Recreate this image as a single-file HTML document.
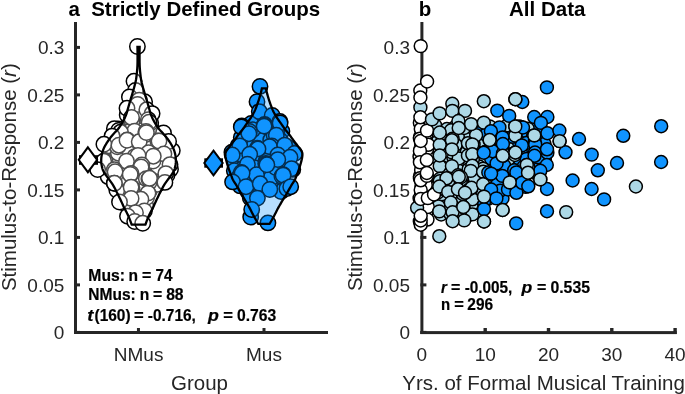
<!DOCTYPE html><html><head><meta charset="utf-8"><style>html,body{margin:0;padding:0;background:#fff;width:685px;height:394px;overflow:hidden}</style></head><body><svg width="685" height="394" viewBox="0 0 685 394" style="position:absolute;left:0;top:0;will-change:transform"><rect width="685" height="394" fill="#fff"/><circle cx="127.2" cy="114.9" r="7.7" fill="#fff" stroke="#000" stroke-width="1.5"/><circle cx="136.1" cy="198.9" r="7.7" fill="#fff" stroke="#000" stroke-width="1.5"/><circle cx="141.6" cy="152.4" r="7.7" fill="#fff" stroke="#000" stroke-width="1.5"/><circle cx="144.6" cy="101.8" r="7.7" fill="#fff" stroke="#000" stroke-width="1.5"/><circle cx="128.5" cy="168.5" r="7.7" fill="#fff" stroke="#000" stroke-width="1.5"/><circle cx="126.5" cy="139.0" r="7.7" fill="#fff" stroke="#000" stroke-width="1.5"/><circle cx="161.2" cy="150.7" r="7.7" fill="#fff" stroke="#000" stroke-width="1.5"/><circle cx="125.9" cy="197.2" r="7.7" fill="#fff" stroke="#000" stroke-width="1.5"/><circle cx="120.2" cy="168.6" r="7.7" fill="#fff" stroke="#000" stroke-width="1.5"/><circle cx="119.0" cy="136.0" r="7.7" fill="#fff" stroke="#000" stroke-width="1.5"/><circle cx="140.4" cy="121.5" r="7.7" fill="#fff" stroke="#000" stroke-width="1.5"/><circle cx="130.0" cy="188.5" r="7.7" fill="#fff" stroke="#000" stroke-width="1.5"/><circle cx="149.6" cy="152.4" r="7.7" fill="#fff" stroke="#000" stroke-width="1.5"/><circle cx="121.3" cy="182.6" r="7.7" fill="#fff" stroke="#000" stroke-width="1.5"/><circle cx="148.2" cy="169.3" r="7.7" fill="#fff" stroke="#000" stroke-width="1.5"/><circle cx="165.9" cy="161.8" r="7.7" fill="#fff" stroke="#000" stroke-width="1.5"/><circle cx="157.4" cy="173.2" r="7.7" fill="#fff" stroke="#000" stroke-width="1.5"/><circle cx="170.5" cy="169.2" r="7.7" fill="#fff" stroke="#000" stroke-width="1.5"/><circle cx="149.2" cy="191.2" r="7.7" fill="#fff" stroke="#000" stroke-width="1.5"/><circle cx="137.3" cy="136.4" r="7.7" fill="#fff" stroke="#000" stroke-width="1.5"/><circle cx="116.8" cy="190.0" r="7.7" fill="#fff" stroke="#000" stroke-width="1.5"/><circle cx="172.3" cy="150.6" r="7.7" fill="#fff" stroke="#000" stroke-width="1.5"/><circle cx="118.4" cy="128.9" r="7.7" fill="#fff" stroke="#000" stroke-width="1.5"/><circle cx="157.6" cy="184.2" r="7.7" fill="#fff" stroke="#000" stroke-width="1.5"/><circle cx="150.4" cy="139.0" r="7.7" fill="#fff" stroke="#000" stroke-width="1.5"/><circle cx="133.9" cy="101.0" r="7.7" fill="#fff" stroke="#000" stroke-width="1.5"/><circle cx="132.3" cy="158.2" r="7.7" fill="#fff" stroke="#000" stroke-width="1.5"/><circle cx="149.5" cy="177.0" r="7.7" fill="#fff" stroke="#000" stroke-width="1.5"/><circle cx="140.1" cy="144.2" r="7.7" fill="#fff" stroke="#000" stroke-width="1.5"/><circle cx="141.4" cy="128.6" r="7.7" fill="#fff" stroke="#000" stroke-width="1.5"/><circle cx="145.8" cy="205.9" r="7.7" fill="#fff" stroke="#000" stroke-width="1.5"/><circle cx="127.8" cy="206.4" r="7.7" fill="#fff" stroke="#000" stroke-width="1.5"/><circle cx="157.6" cy="139.3" r="7.7" fill="#fff" stroke="#000" stroke-width="1.5"/><circle cx="137.1" cy="173.6" r="7.7" fill="#fff" stroke="#000" stroke-width="1.5"/><circle cx="128.1" cy="173.7" r="7.7" fill="#fff" stroke="#000" stroke-width="1.5"/><circle cx="108.2" cy="176.7" r="7.7" fill="#fff" stroke="#000" stroke-width="1.5"/><circle cx="158.5" cy="166.9" r="7.7" fill="#fff" stroke="#000" stroke-width="1.5"/><circle cx="129.3" cy="146.9" r="7.7" fill="#fff" stroke="#000" stroke-width="1.5"/><circle cx="137.2" cy="109.2" r="7.7" fill="#fff" stroke="#000" stroke-width="1.5"/><circle cx="109.5" cy="166.9" r="7.7" fill="#fff" stroke="#000" stroke-width="1.5"/><circle cx="157.1" cy="143.3" r="7.7" fill="#fff" stroke="#000" stroke-width="1.5"/><circle cx="140.8" cy="115.6" r="7.7" fill="#fff" stroke="#000" stroke-width="1.5"/><circle cx="109.6" cy="152.9" r="7.7" fill="#fff" stroke="#000" stroke-width="1.5"/><circle cx="119.0" cy="174.2" r="7.7" fill="#fff" stroke="#000" stroke-width="1.5"/><circle cx="137.7" cy="204.8" r="7.7" fill="#fff" stroke="#000" stroke-width="1.5"/><circle cx="123.7" cy="160.3" r="7.7" fill="#fff" stroke="#000" stroke-width="1.5"/><circle cx="108.7" cy="145.7" r="7.7" fill="#fff" stroke="#000" stroke-width="1.5"/><circle cx="129.0" cy="181.4" r="7.7" fill="#fff" stroke="#000" stroke-width="1.5"/><circle cx="132.1" cy="121.0" r="7.7" fill="#fff" stroke="#000" stroke-width="1.5"/><circle cx="149.2" cy="182.2" r="7.7" fill="#fff" stroke="#000" stroke-width="1.5"/><circle cx="148.0" cy="143.7" r="7.7" fill="#fff" stroke="#000" stroke-width="1.5"/><circle cx="112.3" cy="161.2" r="7.7" fill="#fff" stroke="#000" stroke-width="1.5"/><circle cx="141.3" cy="168.9" r="7.7" fill="#fff" stroke="#000" stroke-width="1.5"/><circle cx="151.5" cy="128.6" r="7.7" fill="#fff" stroke="#000" stroke-width="1.5"/><circle cx="142.9" cy="161.8" r="7.7" fill="#fff" stroke="#000" stroke-width="1.5"/><circle cx="139.8" cy="183.8" r="7.7" fill="#fff" stroke="#000" stroke-width="1.5"/><circle cx="118.4" cy="153.2" r="7.7" fill="#fff" stroke="#000" stroke-width="1.5"/><circle cx="150.7" cy="122.8" r="7.7" fill="#fff" stroke="#000" stroke-width="1.5"/><circle cx="129.4" cy="131.7" r="7.7" fill="#fff" stroke="#000" stroke-width="1.5"/><circle cx="139.6" cy="191.8" r="7.7" fill="#fff" stroke="#000" stroke-width="1.5"/><circle cx="129.7" cy="151.7" r="7.7" fill="#fff" stroke="#000" stroke-width="1.5"/><circle cx="105.2" cy="161.4" r="7.7" fill="#fff" stroke="#000" stroke-width="1.5"/><circle cx="117.4" cy="146.8" r="7.7" fill="#fff" stroke="#000" stroke-width="1.5"/><circle cx="153.0" cy="161.0" r="7.7" fill="#fff" stroke="#000" stroke-width="1.5"/><circle cx="146.7" cy="197.3" r="7.7" fill="#fff" stroke="#000" stroke-width="1.5"/><circle cx="280.4" cy="183.3" r="7.7" fill="#1094ff" stroke="#000" stroke-width="1.5"/><circle cx="261.8" cy="183.3" r="7.7" fill="#1094ff" stroke="#000" stroke-width="1.5"/><circle cx="281.1" cy="191.5" r="7.7" fill="#1094ff" stroke="#000" stroke-width="1.5"/><circle cx="262.0" cy="152.4" r="7.7" fill="#1094ff" stroke="#000" stroke-width="1.5"/><circle cx="262.9" cy="171.0" r="7.7" fill="#1094ff" stroke="#000" stroke-width="1.5"/><circle cx="281.9" cy="131.3" r="7.7" fill="#1094ff" stroke="#000" stroke-width="1.5"/><circle cx="270.3" cy="182.9" r="7.7" fill="#1094ff" stroke="#000" stroke-width="1.5"/><circle cx="234.8" cy="161.7" r="7.7" fill="#1094ff" stroke="#000" stroke-width="1.5"/><circle cx="244.6" cy="159.8" r="7.7" fill="#1094ff" stroke="#000" stroke-width="1.5"/><circle cx="262.7" cy="174.8" r="7.7" fill="#1094ff" stroke="#000" stroke-width="1.5"/><circle cx="248.2" cy="192.0" r="7.7" fill="#1094ff" stroke="#000" stroke-width="1.5"/><circle cx="248.5" cy="153.7" r="7.7" fill="#1094ff" stroke="#000" stroke-width="1.5"/><circle cx="284.6" cy="170.8" r="7.7" fill="#1094ff" stroke="#000" stroke-width="1.5"/><circle cx="260.0" cy="125.5" r="7.7" fill="#1094ff" stroke="#000" stroke-width="1.5"/><circle cx="239.9" cy="154.0" r="7.7" fill="#1094ff" stroke="#000" stroke-width="1.5"/><circle cx="268.8" cy="145.3" r="7.7" fill="#1094ff" stroke="#000" stroke-width="1.5"/><circle cx="249.3" cy="137.4" r="7.7" fill="#1094ff" stroke="#000" stroke-width="1.5"/><circle cx="269.3" cy="131.0" r="7.7" fill="#1094ff" stroke="#000" stroke-width="1.5"/><circle cx="238.1" cy="145.7" r="7.7" fill="#1094ff" stroke="#000" stroke-width="1.5"/><circle cx="256.5" cy="163.2" r="7.7" fill="#1094ff" stroke="#000" stroke-width="1.5"/><circle cx="242.0" cy="169.2" r="7.7" fill="#1094ff" stroke="#000" stroke-width="1.5"/><circle cx="259.4" cy="144.9" r="7.7" fill="#1094ff" stroke="#000" stroke-width="1.5"/><circle cx="252.3" cy="176.9" r="7.7" fill="#1094ff" stroke="#000" stroke-width="1.5"/><circle cx="277.1" cy="159.9" r="7.7" fill="#1094ff" stroke="#000" stroke-width="1.5"/><circle cx="271.0" cy="178.0" r="7.7" fill="#1094ff" stroke="#000" stroke-width="1.5"/><circle cx="275.8" cy="167.5" r="7.7" fill="#1094ff" stroke="#000" stroke-width="1.5"/><circle cx="254.3" cy="167.6" r="7.7" fill="#1094ff" stroke="#000" stroke-width="1.5"/><circle cx="234.3" cy="170.8" r="7.7" fill="#1094ff" stroke="#000" stroke-width="1.5"/><circle cx="280.7" cy="155.6" r="7.7" fill="#1094ff" stroke="#000" stroke-width="1.5"/><circle cx="269.5" cy="124.0" r="7.7" fill="#1094ff" stroke="#000" stroke-width="1.5"/><circle cx="261.3" cy="132.0" r="7.7" fill="#1094ff" stroke="#000" stroke-width="1.5"/><circle cx="288.5" cy="148.0" r="7.7" fill="#1094ff" stroke="#000" stroke-width="1.5"/><circle cx="286.8" cy="160.2" r="7.7" fill="#1094ff" stroke="#000" stroke-width="1.5"/><circle cx="250.9" cy="182.1" r="7.7" fill="#1094ff" stroke="#000" stroke-width="1.5"/><circle cx="292.8" cy="169.4" r="7.7" fill="#1094ff" stroke="#000" stroke-width="1.5"/><circle cx="270.8" cy="152.5" r="7.7" fill="#1094ff" stroke="#000" stroke-width="1.5"/><circle cx="240.2" cy="185.9" r="7.7" fill="#1094ff" stroke="#000" stroke-width="1.5"/><circle cx="231.9" cy="152.2" r="7.7" fill="#1094ff" stroke="#000" stroke-width="1.5"/><circle cx="289.2" cy="152.0" r="7.7" fill="#1094ff" stroke="#000" stroke-width="1.5"/><circle cx="250.4" cy="147.4" r="7.7" fill="#1094ff" stroke="#000" stroke-width="1.5"/><circle cx="266.2" cy="161.1" r="7.7" fill="#1094ff" stroke="#000" stroke-width="1.5"/><circle cx="281.9" cy="176.3" r="7.7" fill="#1094ff" stroke="#000" stroke-width="1.5"/><circle cx="250.3" cy="198.0" r="7.7" fill="#1094ff" stroke="#000" stroke-width="1.5"/><circle cx="251.3" cy="123.5" r="7.7" fill="#1094ff" stroke="#000" stroke-width="1.5"/><circle cx="260.4" cy="140.7" r="7.7" fill="#1094ff" stroke="#000" stroke-width="1.5"/><circle cx="239.7" cy="176.0" r="7.7" fill="#1094ff" stroke="#000" stroke-width="1.5"/><circle cx="241.3" cy="137.6" r="7.7" fill="#1094ff" stroke="#000" stroke-width="1.5"/><circle cx="270.7" cy="140.1" r="7.7" fill="#1094ff" stroke="#000" stroke-width="1.5"/><circle cx="278.8" cy="147.7" r="7.7" fill="#1094ff" stroke="#000" stroke-width="1.5"/><circle cx="279.9" cy="140.0" r="7.7" fill="#1094ff" stroke="#000" stroke-width="1.5"/><circle cx="252.7" cy="129.8" r="7.7" fill="#1094ff" stroke="#000" stroke-width="1.5"/><circle cx="137.4" cy="46.5" r="7.7" fill="#fff" stroke="#000" stroke-width="1.5"/><circle cx="134" cy="81.3" r="7.7" fill="#fff" stroke="#000" stroke-width="1.5"/><circle cx="135.5" cy="90.5" r="7.7" fill="#fff" stroke="#000" stroke-width="1.5"/><circle cx="129.4" cy="96.9" r="7.7" fill="#fff" stroke="#000" stroke-width="1.5"/><circle cx="139.2" cy="100.1" r="7.7" fill="#fff" stroke="#000" stroke-width="1.5"/><circle cx="137.6" cy="104.5" r="7.7" fill="#fff" stroke="#000" stroke-width="1.5"/><circle cx="127" cy="108.3" r="7.7" fill="#fff" stroke="#000" stroke-width="1.5"/><circle cx="146.8" cy="109.8" r="7.7" fill="#fff" stroke="#000" stroke-width="1.5"/><circle cx="131.5" cy="117.4" r="7.7" fill="#fff" stroke="#000" stroke-width="1.5"/><circle cx="152.1" cy="113.6" r="7.7" fill="#fff" stroke="#000" stroke-width="1.5"/><circle cx="148.3" cy="119.7" r="7.7" fill="#fff" stroke="#000" stroke-width="1.5"/><circle cx="149.1" cy="122.2" r="7.7" fill="#fff" stroke="#000" stroke-width="1.5"/><circle cx="114.4" cy="128.6" r="7.7" fill="#fff" stroke="#000" stroke-width="1.5"/><circle cx="118.6" cy="130.4" r="7.7" fill="#fff" stroke="#000" stroke-width="1.5"/><circle cx="134.6" cy="131.1" r="7.7" fill="#fff" stroke="#000" stroke-width="1.5"/><circle cx="120.5" cy="132.3" r="7.7" fill="#fff" stroke="#000" stroke-width="1.5"/><circle cx="146" cy="131.5" r="7.7" fill="#fff" stroke="#000" stroke-width="1.5"/><circle cx="163.5" cy="132.9" r="7.7" fill="#fff" stroke="#000" stroke-width="1.5"/><circle cx="112.1" cy="136.1" r="7.7" fill="#fff" stroke="#000" stroke-width="1.5"/><circle cx="145.6" cy="134.6" r="7.7" fill="#fff" stroke="#000" stroke-width="1.5"/><circle cx="127.3" cy="139.9" r="7.7" fill="#fff" stroke="#000" stroke-width="1.5"/><circle cx="138.7" cy="142.2" r="7.7" fill="#fff" stroke="#000" stroke-width="1.5"/><circle cx="157.8" cy="141" r="7.7" fill="#fff" stroke="#000" stroke-width="1.5"/><circle cx="168.6" cy="141.5" r="7.7" fill="#fff" stroke="#000" stroke-width="1.5"/><circle cx="103.9" cy="144.3" r="7.7" fill="#fff" stroke="#000" stroke-width="1.5"/><circle cx="118.9" cy="145.2" r="7.7" fill="#fff" stroke="#000" stroke-width="1.5"/><circle cx="127" cy="140.3" r="7.7" fill="#fff" stroke="#000" stroke-width="1.5"/><circle cx="139.2" cy="141.8" r="7.7" fill="#fff" stroke="#000" stroke-width="1.5"/><circle cx="159" cy="141" r="7.7" fill="#fff" stroke="#000" stroke-width="1.5"/><circle cx="146.4" cy="132.6" r="7.7" fill="#fff" stroke="#000" stroke-width="1.5"/><circle cx="148.6" cy="152.8" r="7.7" fill="#fff" stroke="#000" stroke-width="1.5"/><circle cx="134.9" cy="156.6" r="7.7" fill="#fff" stroke="#000" stroke-width="1.5"/><circle cx="163.9" cy="153.9" r="7.7" fill="#fff" stroke="#000" stroke-width="1.5"/><circle cx="153.3" cy="156.2" r="7.7" fill="#fff" stroke="#000" stroke-width="1.5"/><circle cx="138" cy="155.5" r="7.7" fill="#fff" stroke="#000" stroke-width="1.5"/><circle cx="126.5" cy="161.2" r="7.7" fill="#fff" stroke="#000" stroke-width="1.5"/><circle cx="103.7" cy="161.2" r="7.7" fill="#fff" stroke="#000" stroke-width="1.5"/><circle cx="97.6" cy="169.6" r="7.7" fill="#fff" stroke="#000" stroke-width="1.5"/><circle cx="114.4" cy="169.6" r="7.7" fill="#fff" stroke="#000" stroke-width="1.5"/><circle cx="141.8" cy="165" r="7.7" fill="#fff" stroke="#000" stroke-width="1.5"/><circle cx="141.1" cy="166.9" r="7.7" fill="#fff" stroke="#000" stroke-width="1.5"/><circle cx="170" cy="164.6" r="7.7" fill="#fff" stroke="#000" stroke-width="1.5"/><circle cx="131.1" cy="173.4" r="7.7" fill="#fff" stroke="#000" stroke-width="1.5"/><circle cx="146.3" cy="178.7" r="7.7" fill="#fff" stroke="#000" stroke-width="1.5"/><circle cx="167" cy="175.3" r="7.7" fill="#fff" stroke="#000" stroke-width="1.5"/><circle cx="115.1" cy="171.8" r="7.7" fill="#fff" stroke="#000" stroke-width="1.5"/><circle cx="130.2" cy="174.4" r="7.7" fill="#fff" stroke="#000" stroke-width="1.5"/><circle cx="148.9" cy="178.9" r="7.7" fill="#fff" stroke="#000" stroke-width="1.5"/><circle cx="165.8" cy="173.6" r="7.7" fill="#fff" stroke="#000" stroke-width="1.5"/><circle cx="164.9" cy="182.4" r="7.7" fill="#fff" stroke="#000" stroke-width="1.5"/><circle cx="114.2" cy="183.3" r="7.7" fill="#fff" stroke="#000" stroke-width="1.5"/><circle cx="114.4" cy="183.3" r="7.7" fill="#fff" stroke="#000" stroke-width="1.5"/><circle cx="132" cy="187.8" r="7.7" fill="#fff" stroke="#000" stroke-width="1.5"/><circle cx="131.1" cy="187.1" r="7.7" fill="#fff" stroke="#000" stroke-width="1.5"/><circle cx="148" cy="193.1" r="7.7" fill="#fff" stroke="#000" stroke-width="1.5"/><circle cx="140.9" cy="199.3" r="7.7" fill="#fff" stroke="#000" stroke-width="1.5"/><circle cx="131.1" cy="198.4" r="7.7" fill="#fff" stroke="#000" stroke-width="1.5"/><circle cx="119.5" cy="202" r="7.7" fill="#fff" stroke="#000" stroke-width="1.5"/><circle cx="144.4" cy="210.9" r="7.7" fill="#fff" stroke="#000" stroke-width="1.5"/><circle cx="135.5" cy="212.7" r="7.7" fill="#fff" stroke="#000" stroke-width="1.5"/><circle cx="127.5" cy="216.2" r="7.7" fill="#fff" stroke="#000" stroke-width="1.5"/><circle cx="134.7" cy="221.5" r="7.7" fill="#fff" stroke="#000" stroke-width="1.5"/><circle cx="142.7" cy="223.3" r="7.7" fill="#fff" stroke="#000" stroke-width="1.5"/><circle cx="149.5" cy="178.3" r="7.7" fill="#fff" stroke="#000" stroke-width="1.5"/><circle cx="260" cy="86.4" r="7.7" fill="#1094ff" stroke="#000" stroke-width="1.5"/><circle cx="257" cy="101.7" r="7.7" fill="#1094ff" stroke="#000" stroke-width="1.5"/><circle cx="259.3" cy="111.6" r="7.7" fill="#1094ff" stroke="#000" stroke-width="1.5"/><circle cx="272.2" cy="115.4" r="7.7" fill="#1094ff" stroke="#000" stroke-width="1.5"/><circle cx="279.9" cy="121.5" r="7.7" fill="#1094ff" stroke="#000" stroke-width="1.5"/><circle cx="241.8" cy="126" r="7.7" fill="#1094ff" stroke="#000" stroke-width="1.5"/><circle cx="264.6" cy="124.5" r="7.7" fill="#1094ff" stroke="#000" stroke-width="1.5"/><circle cx="249.4" cy="131.4" r="7.7" fill="#1094ff" stroke="#000" stroke-width="1.5"/><circle cx="276.8" cy="132.1" r="7.7" fill="#1094ff" stroke="#000" stroke-width="1.5"/><circle cx="241.3" cy="126.9" r="7.7" fill="#1094ff" stroke="#000" stroke-width="1.5"/><circle cx="264.2" cy="125.3" r="7.7" fill="#1094ff" stroke="#000" stroke-width="1.5"/><circle cx="248.9" cy="133.7" r="7.7" fill="#1094ff" stroke="#000" stroke-width="1.5"/><circle cx="274.1" cy="135.2" r="7.7" fill="#1094ff" stroke="#000" stroke-width="1.5"/><circle cx="280.1" cy="123" r="7.7" fill="#1094ff" stroke="#000" stroke-width="1.5"/><circle cx="264.1" cy="126.1" r="7.7" fill="#1094ff" stroke="#000" stroke-width="1.5"/><circle cx="276.3" cy="135.2" r="7.7" fill="#1094ff" stroke="#000" stroke-width="1.5"/><circle cx="239.8" cy="145.9" r="7.7" fill="#1094ff" stroke="#000" stroke-width="1.5"/><circle cx="257.3" cy="148.2" r="7.7" fill="#1094ff" stroke="#000" stroke-width="1.5"/><circle cx="271.8" cy="145.9" r="7.7" fill="#1094ff" stroke="#000" stroke-width="1.5"/><circle cx="269.5" cy="146.6" r="7.7" fill="#1094ff" stroke="#000" stroke-width="1.5"/><circle cx="258" cy="148.9" r="7.7" fill="#1094ff" stroke="#000" stroke-width="1.5"/><circle cx="284.7" cy="145.1" r="7.7" fill="#1094ff" stroke="#000" stroke-width="1.5"/><circle cx="294.6" cy="153.5" r="7.7" fill="#1094ff" stroke="#000" stroke-width="1.5"/><circle cx="232.2" cy="155" r="7.7" fill="#1094ff" stroke="#000" stroke-width="1.5"/><circle cx="249.7" cy="154.3" r="7.7" fill="#1094ff" stroke="#000" stroke-width="1.5"/><circle cx="277.9" cy="155" r="7.7" fill="#1094ff" stroke="#000" stroke-width="1.5"/><circle cx="290" cy="157.3" r="7.7" fill="#1094ff" stroke="#000" stroke-width="1.5"/><circle cx="277.8" cy="159.6" r="7.7" fill="#1094ff" stroke="#000" stroke-width="1.5"/><circle cx="265.7" cy="163.4" r="7.7" fill="#1094ff" stroke="#000" stroke-width="1.5"/><circle cx="266.4" cy="164.2" r="7.7" fill="#1094ff" stroke="#000" stroke-width="1.5"/><circle cx="247.4" cy="164.2" r="7.7" fill="#1094ff" stroke="#000" stroke-width="1.5"/><circle cx="291.5" cy="168.7" r="7.7" fill="#1094ff" stroke="#000" stroke-width="1.5"/><circle cx="241.3" cy="172.5" r="7.7" fill="#1094ff" stroke="#000" stroke-width="1.5"/><circle cx="256.5" cy="174.8" r="7.7" fill="#1094ff" stroke="#000" stroke-width="1.5"/><circle cx="283.2" cy="174.8" r="7.7" fill="#1094ff" stroke="#000" stroke-width="1.5"/><circle cx="266.9" cy="164.8" r="7.7" fill="#1094ff" stroke="#000" stroke-width="1.5"/><circle cx="242.1" cy="173.3" r="7.7" fill="#1094ff" stroke="#000" stroke-width="1.5"/><circle cx="283.1" cy="175.2" r="7.7" fill="#1094ff" stroke="#000" stroke-width="1.5"/><circle cx="232.6" cy="181.9" r="7.7" fill="#1094ff" stroke="#000" stroke-width="1.5"/><circle cx="246" cy="186.7" r="7.7" fill="#1094ff" stroke="#000" stroke-width="1.5"/><circle cx="260.2" cy="183.8" r="7.7" fill="#1094ff" stroke="#000" stroke-width="1.5"/><circle cx="269.8" cy="189.5" r="7.7" fill="#1094ff" stroke="#000" stroke-width="1.5"/><circle cx="286.9" cy="188.6" r="7.7" fill="#1094ff" stroke="#000" stroke-width="1.5"/><circle cx="290.7" cy="186.7" r="7.7" fill="#1094ff" stroke="#000" stroke-width="1.5"/><circle cx="250.7" cy="217.1" r="7.7" fill="#1094ff" stroke="#000" stroke-width="1.5"/><circle cx="257.4" cy="198.1" r="7.7" fill="#1094ff" stroke="#000" stroke-width="1.5"/><circle cx="251.7" cy="209.5" r="7.7" fill="#1094ff" stroke="#000" stroke-width="1.5"/><circle cx="267.9" cy="222.9" r="7.7" fill="#1094ff" stroke="#000" stroke-width="1.5"/><path d="M139.65,46.90 L139.64,47.51 L139.63,48.31 L139.61,49.26 L139.59,50.32 L139.58,51.47 L139.56,52.65 L139.55,53.84 L139.55,55.00 L139.55,56.18 L139.55,57.44 L139.56,58.74 L139.56,60.07 L139.57,61.39 L139.59,62.67 L139.62,63.88 L139.65,65.00 L139.69,66.01 L139.74,66.94 L139.79,67.80 L139.84,68.62 L139.91,69.43 L139.98,70.25 L140.06,71.10 L140.15,72.00 L140.25,72.96 L140.35,73.95 L140.46,74.97 L140.58,76.00 L140.70,77.03 L140.84,78.05 L140.99,79.04 L141.15,80.00 L141.33,80.92 L141.52,81.82 L141.72,82.70 L141.94,83.56 L142.16,84.42 L142.39,85.27 L142.62,86.13 L142.85,87.00 L143.08,87.88 L143.33,88.75 L143.57,89.63 L143.83,90.51 L144.08,91.38 L144.34,92.26 L144.59,93.13 L144.85,94.00 L145.11,94.87 L145.37,95.73 L145.63,96.59 L145.90,97.45 L146.17,98.31 L146.43,99.17 L146.69,100.03 L146.95,100.90 L147.20,101.77 L147.45,102.64 L147.70,103.52 L147.95,104.39 L148.20,105.27 L148.45,106.15 L148.70,107.02 L148.95,107.90 L149.20,108.78 L149.44,109.65 L149.68,110.53 L149.92,111.40 L150.17,112.28 L150.44,113.15 L150.73,114.03 L151.05,114.90 L151.40,115.78 L151.76,116.65 L152.15,117.53 L152.55,118.41 L152.97,119.28 L153.41,120.16 L153.87,121.03 L154.35,121.90 L154.85,122.78 L155.37,123.66 L155.92,124.55 L156.48,125.44 L157.06,126.31 L157.65,127.17 L158.25,128.00 L158.85,128.80 L159.47,129.56 L160.11,130.27 L160.76,130.95 L161.42,131.62 L162.08,132.28 L162.75,132.96 L163.40,133.66 L164.05,134.40 L164.69,135.17 L165.34,135.97 L165.98,136.78 L166.62,137.61 L167.25,138.45 L167.87,139.30 L168.47,140.15 L169.05,141.00 L169.62,141.86 L170.18,142.72 L170.74,143.60 L171.28,144.47 L171.79,145.36 L172.28,146.24 L172.73,147.12 L173.15,148.00 L173.53,148.88 L173.87,149.75 L174.19,150.62 L174.48,151.50 L174.73,152.38 L174.96,153.25 L175.17,154.12 L175.35,155.00 L175.51,155.88 L175.64,156.75 L175.74,157.62 L175.82,158.50 L175.87,159.38 L175.89,160.25 L175.89,161.12 L175.85,162.00 L175.78,162.89 L175.68,163.80 L175.55,164.71 L175.39,165.62 L175.20,166.52 L175.00,167.39 L174.78,168.22 L174.55,169.00 L174.30,169.73 L174.01,170.42 L173.71,171.08 L173.39,171.71 L173.05,172.32 L172.72,172.90 L172.38,173.46 L172.05,174.00 L171.74,174.49 L171.45,174.90 L171.17,175.28 L170.88,175.64 L170.56,176.02 L170.21,176.45 L169.81,176.97 L169.35,177.60 L168.80,178.36 L168.18,179.22 L167.50,180.15 L166.79,181.14 L166.06,182.17 L165.35,183.20 L164.67,184.22 L164.05,185.20 L163.48,186.16 L162.93,187.12 L162.41,188.08 L161.90,189.05 L161.41,190.02 L160.92,190.98 L160.44,191.94 L159.95,192.90 L159.47,193.85 L158.99,194.81 L158.52,195.76 L158.06,196.71 L157.61,197.65 L157.15,198.60 L156.70,199.55 L156.25,200.50 L155.81,201.45 L155.37,202.40 L154.94,203.35 L154.51,204.30 L154.08,205.25 L153.65,206.20 L153.21,207.15 L152.75,208.10 L152.28,209.04 L151.79,209.97 L151.30,210.89 L150.80,211.81 L150.30,212.75 L149.81,213.70 L149.32,214.68 L148.85,215.70 L148.37,216.82 L147.86,218.06 L147.35,219.37 L146.86,220.67 L146.39,221.92 L145.97,223.05 L145.62,224.00 L145.35,224.70 L131.75,224.70 L131.48,224.00 L131.13,223.05 L130.71,221.92 L130.24,220.67 L129.75,219.37 L129.24,218.06 L128.73,216.82 L128.25,215.70 L127.78,214.68 L127.29,213.70 L126.80,212.75 L126.30,211.81 L125.80,210.89 L125.31,209.97 L124.82,209.04 L124.35,208.10 L123.89,207.15 L123.45,206.20 L123.02,205.25 L122.59,204.30 L122.16,203.35 L121.73,202.40 L121.29,201.45 L120.85,200.50 L120.40,199.55 L119.95,198.60 L119.49,197.65 L119.04,196.71 L118.58,195.76 L118.11,194.81 L117.63,193.85 L117.15,192.90 L116.66,191.94 L116.18,190.98 L115.69,190.02 L115.20,189.05 L114.69,188.08 L114.17,187.12 L113.62,186.16 L113.05,185.20 L112.43,184.22 L111.75,183.20 L111.04,182.17 L110.31,181.14 L109.60,180.15 L108.92,179.22 L108.30,178.36 L107.75,177.60 L107.29,176.97 L106.89,176.45 L106.54,176.02 L106.23,175.64 L105.93,175.28 L105.65,174.90 L105.36,174.49 L105.05,174.00 L104.72,173.46 L104.38,172.90 L104.05,172.32 L103.71,171.71 L103.39,171.08 L103.09,170.42 L102.80,169.73 L102.55,169.00 L102.32,168.22 L102.10,167.39 L101.90,166.52 L101.71,165.62 L101.55,164.71 L101.42,163.80 L101.32,162.89 L101.25,162.00 L101.21,161.12 L101.21,160.25 L101.23,159.38 L101.28,158.50 L101.36,157.62 L101.46,156.75 L101.59,155.88 L101.75,155.00 L101.93,154.12 L102.14,153.25 L102.37,152.38 L102.63,151.50 L102.91,150.62 L103.23,149.75 L103.57,148.88 L103.95,148.00 L104.37,147.12 L104.82,146.24 L105.31,145.36 L105.83,144.47 L106.36,143.60 L106.92,142.72 L107.48,141.86 L108.05,141.00 L108.63,140.15 L109.23,139.30 L109.85,138.45 L110.48,137.61 L111.12,136.78 L111.76,135.97 L112.41,135.17 L113.05,134.40 L113.70,133.66 L114.35,132.96 L115.02,132.28 L115.68,131.62 L116.34,130.95 L116.99,130.27 L117.63,129.56 L118.25,128.80 L118.85,128.00 L119.45,127.17 L120.04,126.31 L120.62,125.44 L121.18,124.55 L121.73,123.66 L122.25,122.78 L122.75,121.90 L123.23,121.03 L123.69,120.16 L124.13,119.28 L124.55,118.41 L124.95,117.53 L125.34,116.65 L125.70,115.78 L126.05,114.90 L126.37,114.03 L126.66,113.15 L126.93,112.28 L127.18,111.40 L127.42,110.53 L127.66,109.65 L127.90,108.78 L128.15,107.90 L128.40,107.02 L128.65,106.15 L128.90,105.27 L129.15,104.39 L129.40,103.52 L129.65,102.64 L129.90,101.77 L130.15,100.90 L130.41,100.03 L130.67,99.17 L130.93,98.31 L131.20,97.45 L131.47,96.59 L131.73,95.73 L131.99,94.87 L132.25,94.00 L132.51,93.13 L132.76,92.26 L133.02,91.38 L133.28,90.51 L133.53,89.63 L133.77,88.75 L134.02,87.88 L134.25,87.00 L134.48,86.13 L134.71,85.27 L134.94,84.42 L135.16,83.56 L135.38,82.70 L135.58,81.82 L135.77,80.92 L135.95,80.00 L136.11,79.04 L136.26,78.05 L136.40,77.03 L136.53,76.00 L136.64,74.97 L136.75,73.95 L136.85,72.96 L136.95,72.00 L137.04,71.10 L137.12,70.25 L137.19,69.43 L137.26,68.62 L137.31,67.80 L137.36,66.94 L137.41,66.01 L137.45,65.00 L137.48,63.88 L137.51,62.67 L137.53,61.39 L137.54,60.07 L137.54,58.74 L137.55,57.44 L137.55,56.18 L137.55,55.00 L137.55,53.84 L137.54,52.65 L137.52,51.47 L137.51,50.32 L137.49,49.26 L137.47,48.31 L137.46,47.51 L137.45,46.90 Z" fill="#fff" fill-opacity="0.3" stroke="none"/><path d="M265.90,88.30 L265.97,88.63 L266.06,89.05 L266.17,89.54 L266.29,90.11 L266.42,90.72 L266.57,91.36 L266.73,92.03 L266.90,92.70 L267.08,93.40 L267.28,94.14 L267.50,94.92 L267.72,95.73 L267.96,96.55 L268.20,97.37 L268.45,98.19 L268.70,99.00 L268.95,99.80 L269.21,100.60 L269.48,101.40 L269.75,102.20 L270.03,103.00 L270.31,103.80 L270.60,104.60 L270.90,105.40 L271.20,106.19 L271.50,106.98 L271.80,107.77 L272.11,108.55 L272.43,109.33 L272.76,110.12 L273.12,110.91 L273.50,111.70 L273.91,112.50 L274.33,113.30 L274.78,114.10 L275.24,114.90 L275.71,115.70 L276.20,116.50 L276.70,117.30 L277.20,118.10 L277.72,118.90 L278.27,119.71 L278.83,120.52 L279.41,121.33 L279.98,122.13 L280.54,122.91 L281.08,123.67 L281.60,124.40 L282.09,125.10 L282.55,125.76 L282.99,126.41 L283.42,127.04 L283.86,127.65 L284.29,128.27 L284.74,128.88 L285.20,129.50 L285.68,130.12 L286.18,130.74 L286.69,131.35 L287.21,131.96 L287.72,132.57 L288.23,133.18 L288.72,133.79 L289.20,134.40 L289.65,135.00 L290.07,135.57 L290.47,136.14 L290.86,136.71 L291.27,137.30 L291.70,137.92 L292.17,138.58 L292.70,139.30 L293.30,140.10 L293.96,140.97 L294.66,141.89 L295.39,142.84 L296.12,143.79 L296.83,144.71 L297.50,145.59 L298.10,146.40 L298.66,147.14 L299.19,147.85 L299.71,148.53 L300.19,149.17 L300.64,149.79 L301.05,150.38 L301.40,150.95 L301.70,151.50 L301.94,152.00 L302.12,152.44 L302.25,152.84 L302.33,153.22 L302.38,153.61 L302.41,154.02 L302.41,154.48 L302.40,155.00 L302.37,155.58 L302.32,156.19 L302.24,156.82 L302.13,157.49 L302.00,158.20 L301.85,158.93 L301.69,159.70 L301.50,160.50 L301.29,161.35 L301.06,162.25 L300.80,163.20 L300.52,164.17 L300.23,165.16 L299.92,166.15 L299.61,167.14 L299.30,168.10 L298.97,169.07 L298.62,170.08 L298.25,171.10 L297.88,172.11 L297.50,173.09 L297.14,174.03 L296.81,174.91 L296.50,175.70 L296.24,176.39 L296.01,176.99 L295.81,177.51 L295.62,178.00 L295.43,178.47 L295.22,178.94 L294.99,179.44 L294.70,180.00 L294.38,180.59 L294.03,181.18 L293.66,181.77 L293.26,182.39 L292.85,183.03 L292.42,183.70 L291.97,184.42 L291.50,185.20 L291.01,186.04 L290.49,186.95 L289.95,187.91 L289.39,188.90 L288.82,189.91 L288.24,190.92 L287.67,191.93 L287.10,192.90 L286.53,193.85 L285.96,194.81 L285.38,195.76 L284.80,196.71 L284.22,197.65 L283.64,198.60 L283.07,199.55 L282.50,200.50 L281.94,201.45 L281.37,202.40 L280.81,203.35 L280.26,204.30 L279.70,205.25 L279.16,206.20 L278.62,207.15 L278.10,208.10 L277.59,209.05 L277.09,210.02 L276.60,210.98 L276.12,211.94 L275.64,212.90 L275.16,213.85 L274.68,214.78 L274.20,215.70 L273.69,216.63 L273.15,217.61 L272.60,218.58 L272.06,219.54 L271.54,220.45 L271.06,221.29 L270.64,222.01 L270.30,222.60 L270.05,223.04 L269.86,223.35 L269.74,223.55 L269.66,223.68 L269.61,223.75 L269.57,223.80 L269.54,223.84 L269.50,223.90 L258.30,223.90 L258.26,223.84 L258.23,223.80 L258.19,223.75 L258.14,223.68 L258.06,223.55 L257.94,223.35 L257.75,223.04 L257.50,222.60 L257.16,222.01 L256.74,221.29 L256.26,220.45 L255.74,219.54 L255.20,218.58 L254.65,217.61 L254.11,216.63 L253.60,215.70 L253.12,214.78 L252.64,213.85 L252.16,212.90 L251.68,211.94 L251.20,210.98 L250.71,210.02 L250.21,209.05 L249.70,208.10 L249.18,207.15 L248.64,206.20 L248.10,205.25 L247.54,204.30 L246.99,203.35 L246.43,202.40 L245.86,201.45 L245.30,200.50 L244.73,199.55 L244.16,198.60 L243.58,197.65 L243.00,196.71 L242.42,195.76 L241.84,194.81 L241.27,193.85 L240.70,192.90 L240.13,191.93 L239.56,190.92 L238.98,189.91 L238.41,188.90 L237.85,187.91 L237.31,186.95 L236.79,186.04 L236.30,185.20 L235.83,184.42 L235.38,183.70 L234.95,183.03 L234.54,182.39 L234.14,181.77 L233.77,181.18 L233.42,180.59 L233.10,180.00 L232.81,179.44 L232.57,178.94 L232.37,178.47 L232.17,178.00 L231.99,177.51 L231.79,176.99 L231.56,176.39 L231.30,175.70 L230.99,174.91 L230.66,174.03 L230.30,173.09 L229.92,172.11 L229.55,171.10 L229.18,170.08 L228.83,169.07 L228.50,168.10 L228.19,167.14 L227.88,166.15 L227.57,165.16 L227.28,164.17 L227.00,163.20 L226.74,162.25 L226.51,161.35 L226.30,160.50 L226.11,159.70 L225.95,158.93 L225.80,158.20 L225.67,157.49 L225.56,156.82 L225.48,156.19 L225.43,155.58 L225.40,155.00 L225.39,154.48 L225.39,154.02 L225.42,153.61 L225.47,153.22 L225.55,152.84 L225.68,152.44 L225.86,152.00 L226.10,151.50 L226.40,150.95 L226.75,150.38 L227.16,149.79 L227.61,149.17 L228.09,148.53 L228.61,147.85 L229.14,147.14 L229.70,146.40 L230.30,145.59 L230.97,144.71 L231.68,143.79 L232.41,142.84 L233.14,141.89 L233.84,140.97 L234.50,140.10 L235.10,139.30 L235.62,138.58 L236.10,137.92 L236.53,137.30 L236.94,136.71 L237.33,136.14 L237.73,135.57 L238.15,135.00 L238.60,134.40 L239.08,133.79 L239.57,133.18 L240.08,132.57 L240.59,131.96 L241.11,131.35 L241.62,130.74 L242.12,130.12 L242.60,129.50 L243.06,128.88 L243.51,128.27 L243.94,127.65 L244.37,127.04 L244.81,126.41 L245.25,125.76 L245.71,125.10 L246.20,124.40 L246.72,123.67 L247.26,122.91 L247.82,122.13 L248.39,121.33 L248.97,120.52 L249.53,119.71 L250.08,118.90 L250.60,118.10 L251.10,117.30 L251.60,116.50 L252.09,115.70 L252.56,114.90 L253.02,114.10 L253.47,113.30 L253.89,112.50 L254.30,111.70 L254.68,110.91 L255.04,110.12 L255.37,109.33 L255.69,108.55 L256.00,107.77 L256.30,106.98 L256.60,106.19 L256.90,105.40 L257.20,104.60 L257.49,103.80 L257.77,103.00 L258.05,102.20 L258.32,101.40 L258.59,100.60 L258.85,99.80 L259.10,99.00 L259.35,98.19 L259.60,97.37 L259.84,96.55 L260.07,95.73 L260.30,94.92 L260.52,94.14 L260.72,93.40 L260.90,92.70 L261.07,92.03 L261.23,91.36 L261.38,90.72 L261.51,90.11 L261.63,89.54 L261.74,89.05 L261.83,88.63 L261.90,88.30 Z" fill="#1094ff" fill-opacity="0.3" stroke="none"/><path d="M139.65,46.90 L139.64,47.51 L139.63,48.31 L139.61,49.26 L139.59,50.32 L139.58,51.47 L139.56,52.65 L139.55,53.84 L139.55,55.00 L139.55,56.18 L139.55,57.44 L139.56,58.74 L139.56,60.07 L139.57,61.39 L139.59,62.67 L139.62,63.88 L139.65,65.00 L139.69,66.01 L139.74,66.94 L139.79,67.80 L139.84,68.62 L139.91,69.43 L139.98,70.25 L140.06,71.10 L140.15,72.00 L140.25,72.96 L140.35,73.95 L140.46,74.97 L140.58,76.00 L140.70,77.03 L140.84,78.05 L140.99,79.04 L141.15,80.00 L141.33,80.92 L141.52,81.82 L141.72,82.70 L141.94,83.56 L142.16,84.42 L142.39,85.27 L142.62,86.13 L142.85,87.00 L143.08,87.88 L143.33,88.75 L143.57,89.63 L143.83,90.51 L144.08,91.38 L144.34,92.26 L144.59,93.13 L144.85,94.00 L145.11,94.87 L145.37,95.73 L145.63,96.59 L145.90,97.45 L146.17,98.31 L146.43,99.17 L146.69,100.03 L146.95,100.90 L147.20,101.77 L147.45,102.64 L147.70,103.52 L147.95,104.39 L148.20,105.27 L148.45,106.15 L148.70,107.02 L148.95,107.90 L149.20,108.78 L149.44,109.65 L149.68,110.53 L149.92,111.40 L150.17,112.28 L150.44,113.15 L150.73,114.03 L151.05,114.90 L151.40,115.78 L151.76,116.65 L152.15,117.53 L152.55,118.41 L152.97,119.28 L153.41,120.16 L153.87,121.03 L154.35,121.90 L154.85,122.78 L155.37,123.66 L155.92,124.55 L156.48,125.44 L157.06,126.31 L157.65,127.17 L158.25,128.00 L158.85,128.80 L159.47,129.56 L160.11,130.27 L160.76,130.95 L161.42,131.62 L162.08,132.28 L162.75,132.96 L163.40,133.66 L164.05,134.40 L164.69,135.17 L165.34,135.97 L165.98,136.78 L166.62,137.61 L167.25,138.45 L167.87,139.30 L168.47,140.15 L169.05,141.00 L169.62,141.86 L170.18,142.72 L170.74,143.60 L171.28,144.47 L171.79,145.36 L172.28,146.24 L172.73,147.12 L173.15,148.00 L173.53,148.88 L173.87,149.75 L174.19,150.62 L174.48,151.50 L174.73,152.38 L174.96,153.25 L175.17,154.12 L175.35,155.00 L175.51,155.88 L175.64,156.75 L175.74,157.62 L175.82,158.50 L175.87,159.38 L175.89,160.25 L175.89,161.12 L175.85,162.00 L175.78,162.89 L175.68,163.80 L175.55,164.71 L175.39,165.62 L175.20,166.52 L175.00,167.39 L174.78,168.22 L174.55,169.00 L174.30,169.73 L174.01,170.42 L173.71,171.08 L173.39,171.71 L173.05,172.32 L172.72,172.90 L172.38,173.46 L172.05,174.00 L171.74,174.49 L171.45,174.90 L171.17,175.28 L170.88,175.64 L170.56,176.02 L170.21,176.45 L169.81,176.97 L169.35,177.60 L168.80,178.36 L168.18,179.22 L167.50,180.15 L166.79,181.14 L166.06,182.17 L165.35,183.20 L164.67,184.22 L164.05,185.20 L163.48,186.16 L162.93,187.12 L162.41,188.08 L161.90,189.05 L161.41,190.02 L160.92,190.98 L160.44,191.94 L159.95,192.90 L159.47,193.85 L158.99,194.81 L158.52,195.76 L158.06,196.71 L157.61,197.65 L157.15,198.60 L156.70,199.55 L156.25,200.50 L155.81,201.45 L155.37,202.40 L154.94,203.35 L154.51,204.30 L154.08,205.25 L153.65,206.20 L153.21,207.15 L152.75,208.10 L152.28,209.04 L151.79,209.97 L151.30,210.89 L150.80,211.81 L150.30,212.75 L149.81,213.70 L149.32,214.68 L148.85,215.70 L148.37,216.82 L147.86,218.06 L147.35,219.37 L146.86,220.67 L146.39,221.92 L145.97,223.05 L145.62,224.00 L145.35,224.70 L131.75,224.70 L131.48,224.00 L131.13,223.05 L130.71,221.92 L130.24,220.67 L129.75,219.37 L129.24,218.06 L128.73,216.82 L128.25,215.70 L127.78,214.68 L127.29,213.70 L126.80,212.75 L126.30,211.81 L125.80,210.89 L125.31,209.97 L124.82,209.04 L124.35,208.10 L123.89,207.15 L123.45,206.20 L123.02,205.25 L122.59,204.30 L122.16,203.35 L121.73,202.40 L121.29,201.45 L120.85,200.50 L120.40,199.55 L119.95,198.60 L119.49,197.65 L119.04,196.71 L118.58,195.76 L118.11,194.81 L117.63,193.85 L117.15,192.90 L116.66,191.94 L116.18,190.98 L115.69,190.02 L115.20,189.05 L114.69,188.08 L114.17,187.12 L113.62,186.16 L113.05,185.20 L112.43,184.22 L111.75,183.20 L111.04,182.17 L110.31,181.14 L109.60,180.15 L108.92,179.22 L108.30,178.36 L107.75,177.60 L107.29,176.97 L106.89,176.45 L106.54,176.02 L106.23,175.64 L105.93,175.28 L105.65,174.90 L105.36,174.49 L105.05,174.00 L104.72,173.46 L104.38,172.90 L104.05,172.32 L103.71,171.71 L103.39,171.08 L103.09,170.42 L102.80,169.73 L102.55,169.00 L102.32,168.22 L102.10,167.39 L101.90,166.52 L101.71,165.62 L101.55,164.71 L101.42,163.80 L101.32,162.89 L101.25,162.00 L101.21,161.12 L101.21,160.25 L101.23,159.38 L101.28,158.50 L101.36,157.62 L101.46,156.75 L101.59,155.88 L101.75,155.00 L101.93,154.12 L102.14,153.25 L102.37,152.38 L102.63,151.50 L102.91,150.62 L103.23,149.75 L103.57,148.88 L103.95,148.00 L104.37,147.12 L104.82,146.24 L105.31,145.36 L105.83,144.47 L106.36,143.60 L106.92,142.72 L107.48,141.86 L108.05,141.00 L108.63,140.15 L109.23,139.30 L109.85,138.45 L110.48,137.61 L111.12,136.78 L111.76,135.97 L112.41,135.17 L113.05,134.40 L113.70,133.66 L114.35,132.96 L115.02,132.28 L115.68,131.62 L116.34,130.95 L116.99,130.27 L117.63,129.56 L118.25,128.80 L118.85,128.00 L119.45,127.17 L120.04,126.31 L120.62,125.44 L121.18,124.55 L121.73,123.66 L122.25,122.78 L122.75,121.90 L123.23,121.03 L123.69,120.16 L124.13,119.28 L124.55,118.41 L124.95,117.53 L125.34,116.65 L125.70,115.78 L126.05,114.90 L126.37,114.03 L126.66,113.15 L126.93,112.28 L127.18,111.40 L127.42,110.53 L127.66,109.65 L127.90,108.78 L128.15,107.90 L128.40,107.02 L128.65,106.15 L128.90,105.27 L129.15,104.39 L129.40,103.52 L129.65,102.64 L129.90,101.77 L130.15,100.90 L130.41,100.03 L130.67,99.17 L130.93,98.31 L131.20,97.45 L131.47,96.59 L131.73,95.73 L131.99,94.87 L132.25,94.00 L132.51,93.13 L132.76,92.26 L133.02,91.38 L133.28,90.51 L133.53,89.63 L133.77,88.75 L134.02,87.88 L134.25,87.00 L134.48,86.13 L134.71,85.27 L134.94,84.42 L135.16,83.56 L135.38,82.70 L135.58,81.82 L135.77,80.92 L135.95,80.00 L136.11,79.04 L136.26,78.05 L136.40,77.03 L136.53,76.00 L136.64,74.97 L136.75,73.95 L136.85,72.96 L136.95,72.00 L137.04,71.10 L137.12,70.25 L137.19,69.43 L137.26,68.62 L137.31,67.80 L137.36,66.94 L137.41,66.01 L137.45,65.00 L137.48,63.88 L137.51,62.67 L137.53,61.39 L137.54,60.07 L137.54,58.74 L137.55,57.44 L137.55,56.18 L137.55,55.00 L137.55,53.84 L137.54,52.65 L137.52,51.47 L137.51,50.32 L137.49,49.26 L137.47,48.31 L137.46,47.51 L137.45,46.90 Z" fill="none" stroke="#000" stroke-width="2.3" stroke-linejoin="miter"/><path d="M265.90,88.30 L265.97,88.63 L266.06,89.05 L266.17,89.54 L266.29,90.11 L266.42,90.72 L266.57,91.36 L266.73,92.03 L266.90,92.70 L267.08,93.40 L267.28,94.14 L267.50,94.92 L267.72,95.73 L267.96,96.55 L268.20,97.37 L268.45,98.19 L268.70,99.00 L268.95,99.80 L269.21,100.60 L269.48,101.40 L269.75,102.20 L270.03,103.00 L270.31,103.80 L270.60,104.60 L270.90,105.40 L271.20,106.19 L271.50,106.98 L271.80,107.77 L272.11,108.55 L272.43,109.33 L272.76,110.12 L273.12,110.91 L273.50,111.70 L273.91,112.50 L274.33,113.30 L274.78,114.10 L275.24,114.90 L275.71,115.70 L276.20,116.50 L276.70,117.30 L277.20,118.10 L277.72,118.90 L278.27,119.71 L278.83,120.52 L279.41,121.33 L279.98,122.13 L280.54,122.91 L281.08,123.67 L281.60,124.40 L282.09,125.10 L282.55,125.76 L282.99,126.41 L283.42,127.04 L283.86,127.65 L284.29,128.27 L284.74,128.88 L285.20,129.50 L285.68,130.12 L286.18,130.74 L286.69,131.35 L287.21,131.96 L287.72,132.57 L288.23,133.18 L288.72,133.79 L289.20,134.40 L289.65,135.00 L290.07,135.57 L290.47,136.14 L290.86,136.71 L291.27,137.30 L291.70,137.92 L292.17,138.58 L292.70,139.30 L293.30,140.10 L293.96,140.97 L294.66,141.89 L295.39,142.84 L296.12,143.79 L296.83,144.71 L297.50,145.59 L298.10,146.40 L298.66,147.14 L299.19,147.85 L299.71,148.53 L300.19,149.17 L300.64,149.79 L301.05,150.38 L301.40,150.95 L301.70,151.50 L301.94,152.00 L302.12,152.44 L302.25,152.84 L302.33,153.22 L302.38,153.61 L302.41,154.02 L302.41,154.48 L302.40,155.00 L302.37,155.58 L302.32,156.19 L302.24,156.82 L302.13,157.49 L302.00,158.20 L301.85,158.93 L301.69,159.70 L301.50,160.50 L301.29,161.35 L301.06,162.25 L300.80,163.20 L300.52,164.17 L300.23,165.16 L299.92,166.15 L299.61,167.14 L299.30,168.10 L298.97,169.07 L298.62,170.08 L298.25,171.10 L297.88,172.11 L297.50,173.09 L297.14,174.03 L296.81,174.91 L296.50,175.70 L296.24,176.39 L296.01,176.99 L295.81,177.51 L295.62,178.00 L295.43,178.47 L295.22,178.94 L294.99,179.44 L294.70,180.00 L294.38,180.59 L294.03,181.18 L293.66,181.77 L293.26,182.39 L292.85,183.03 L292.42,183.70 L291.97,184.42 L291.50,185.20 L291.01,186.04 L290.49,186.95 L289.95,187.91 L289.39,188.90 L288.82,189.91 L288.24,190.92 L287.67,191.93 L287.10,192.90 L286.53,193.85 L285.96,194.81 L285.38,195.76 L284.80,196.71 L284.22,197.65 L283.64,198.60 L283.07,199.55 L282.50,200.50 L281.94,201.45 L281.37,202.40 L280.81,203.35 L280.26,204.30 L279.70,205.25 L279.16,206.20 L278.62,207.15 L278.10,208.10 L277.59,209.05 L277.09,210.02 L276.60,210.98 L276.12,211.94 L275.64,212.90 L275.16,213.85 L274.68,214.78 L274.20,215.70 L273.69,216.63 L273.15,217.61 L272.60,218.58 L272.06,219.54 L271.54,220.45 L271.06,221.29 L270.64,222.01 L270.30,222.60 L270.05,223.04 L269.86,223.35 L269.74,223.55 L269.66,223.68 L269.61,223.75 L269.57,223.80 L269.54,223.84 L269.50,223.90 L258.30,223.90 L258.26,223.84 L258.23,223.80 L258.19,223.75 L258.14,223.68 L258.06,223.55 L257.94,223.35 L257.75,223.04 L257.50,222.60 L257.16,222.01 L256.74,221.29 L256.26,220.45 L255.74,219.54 L255.20,218.58 L254.65,217.61 L254.11,216.63 L253.60,215.70 L253.12,214.78 L252.64,213.85 L252.16,212.90 L251.68,211.94 L251.20,210.98 L250.71,210.02 L250.21,209.05 L249.70,208.10 L249.18,207.15 L248.64,206.20 L248.10,205.25 L247.54,204.30 L246.99,203.35 L246.43,202.40 L245.86,201.45 L245.30,200.50 L244.73,199.55 L244.16,198.60 L243.58,197.65 L243.00,196.71 L242.42,195.76 L241.84,194.81 L241.27,193.85 L240.70,192.90 L240.13,191.93 L239.56,190.92 L238.98,189.91 L238.41,188.90 L237.85,187.91 L237.31,186.95 L236.79,186.04 L236.30,185.20 L235.83,184.42 L235.38,183.70 L234.95,183.03 L234.54,182.39 L234.14,181.77 L233.77,181.18 L233.42,180.59 L233.10,180.00 L232.81,179.44 L232.57,178.94 L232.37,178.47 L232.17,178.00 L231.99,177.51 L231.79,176.99 L231.56,176.39 L231.30,175.70 L230.99,174.91 L230.66,174.03 L230.30,173.09 L229.92,172.11 L229.55,171.10 L229.18,170.08 L228.83,169.07 L228.50,168.10 L228.19,167.14 L227.88,166.15 L227.57,165.16 L227.28,164.17 L227.00,163.20 L226.74,162.25 L226.51,161.35 L226.30,160.50 L226.11,159.70 L225.95,158.93 L225.80,158.20 L225.67,157.49 L225.56,156.82 L225.48,156.19 L225.43,155.58 L225.40,155.00 L225.39,154.48 L225.39,154.02 L225.42,153.61 L225.47,153.22 L225.55,152.84 L225.68,152.44 L225.86,152.00 L226.10,151.50 L226.40,150.95 L226.75,150.38 L227.16,149.79 L227.61,149.17 L228.09,148.53 L228.61,147.85 L229.14,147.14 L229.70,146.40 L230.30,145.59 L230.97,144.71 L231.68,143.79 L232.41,142.84 L233.14,141.89 L233.84,140.97 L234.50,140.10 L235.10,139.30 L235.62,138.58 L236.10,137.92 L236.53,137.30 L236.94,136.71 L237.33,136.14 L237.73,135.57 L238.15,135.00 L238.60,134.40 L239.08,133.79 L239.57,133.18 L240.08,132.57 L240.59,131.96 L241.11,131.35 L241.62,130.74 L242.12,130.12 L242.60,129.50 L243.06,128.88 L243.51,128.27 L243.94,127.65 L244.37,127.04 L244.81,126.41 L245.25,125.76 L245.71,125.10 L246.20,124.40 L246.72,123.67 L247.26,122.91 L247.82,122.13 L248.39,121.33 L248.97,120.52 L249.53,119.71 L250.08,118.90 L250.60,118.10 L251.10,117.30 L251.60,116.50 L252.09,115.70 L252.56,114.90 L253.02,114.10 L253.47,113.30 L253.89,112.50 L254.30,111.70 L254.68,110.91 L255.04,110.12 L255.37,109.33 L255.69,108.55 L256.00,107.77 L256.30,106.98 L256.60,106.19 L256.90,105.40 L257.20,104.60 L257.49,103.80 L257.77,103.00 L258.05,102.20 L258.32,101.40 L258.59,100.60 L258.85,99.80 L259.10,99.00 L259.35,98.19 L259.60,97.37 L259.84,96.55 L260.07,95.73 L260.30,94.92 L260.52,94.14 L260.72,93.40 L260.90,92.70 L261.07,92.03 L261.23,91.36 L261.38,90.72 L261.51,90.11 L261.63,89.54 L261.74,89.05 L261.83,88.63 L261.90,88.30 Z" fill="none" stroke="#000" stroke-width="2.3" stroke-linejoin="miter"/><rect x="79" y="155.2" width="19" height="9.6" fill="#000"/><path d="M87.9,147.3 L97.1,159.8 L87.9,172.2 L78.7,159.8 Z" fill="#fff" stroke="#000" stroke-width="2"/><rect x="204.3" y="158.3" width="18.7" height="9.4" fill="#000"/><path d="M213.5,150.6 L222.7,163 L213.5,175.4 L204.3,163 Z" fill="#1094ff" stroke="#000" stroke-width="2"/><g fill="#262626"><rect x="74" y="22" width="3" height="312"/><rect x="74" y="331" width="254" height="3"/><rect x="74" y="330.90" width="6" height="3"/><rect x="74" y="283.40" width="6" height="3"/><rect x="74" y="235.90" width="6" height="3"/><rect x="74" y="188.40" width="6" height="3"/><rect x="74" y="140.90" width="6" height="3"/><rect x="74" y="93.40" width="6" height="3"/><rect x="74" y="45.90" width="6" height="3"/><rect x="136.95" y="328" width="3" height="6"/><rect x="262.50" y="328" width="3" height="6"/><rect x="420.4" y="22" width="3" height="312"/><rect x="420.4" y="331.1" width="256.3" height="3"/><rect x="420.4" y="330.90" width="6" height="3"/><rect x="420.4" y="283.40" width="6" height="3"/><rect x="420.4" y="235.90" width="6" height="3"/><rect x="420.4" y="188.40" width="6" height="3"/><rect x="420.4" y="140.90" width="6" height="3"/><rect x="420.4" y="93.40" width="6" height="3"/><rect x="420.4" y="45.90" width="6" height="3"/><rect x="483.50" y="328" width="3.4" height="6"/><rect x="546.80" y="328" width="3.4" height="6"/><rect x="610.10" y="328" width="3.4" height="6"/><rect x="673.40" y="328" width="3.4" height="6"/></g><circle cx="518.8" cy="173.1" r="6.45" fill="#1094ff" stroke="#000" stroke-width="1.5"/><circle cx="465.3" cy="206.4" r="6.45" fill="#add8e6" stroke="#000" stroke-width="1.5"/><circle cx="533.3" cy="167.8" r="6.45" fill="#1094ff" stroke="#000" stroke-width="1.5"/><circle cx="419.96538990279913" cy="176.16934166660477" r="6.45" fill="#fff" stroke="#000" stroke-width="1.5"/><circle cx="492.8" cy="144.6" r="6.45" fill="#1094ff" stroke="#000" stroke-width="1.5"/><circle cx="455.0" cy="127.0" r="6.45" fill="#add8e6" stroke="#000" stroke-width="1.5"/><circle cx="427.00958490296165" cy="172.05117058448172" r="6.45" fill="#fff" stroke="#000" stroke-width="1.5"/><circle cx="451.7" cy="200.6" r="6.45" fill="#add8e6" stroke="#000" stroke-width="1.5"/><circle cx="542.0" cy="135.4" r="6.45" fill="#1094ff" stroke="#000" stroke-width="1.5"/><circle cx="469.6" cy="200.6" r="6.45" fill="#add8e6" stroke="#000" stroke-width="1.5"/><circle cx="493.8" cy="134.4" r="6.45" fill="#add8e6" stroke="#000" stroke-width="1.5"/><circle cx="469.6" cy="134.9" r="6.45" fill="#add8e6" stroke="#000" stroke-width="1.5"/><circle cx="477.1" cy="183.2" r="6.45" fill="#add8e6" stroke="#000" stroke-width="1.5"/><circle cx="426.6615314183953" cy="178.91902950617452" r="6.45" fill="#fff" stroke="#000" stroke-width="1.5"/><circle cx="482.3" cy="142.0" r="6.45" fill="#add8e6" stroke="#000" stroke-width="1.5"/><circle cx="455.7" cy="173.8" r="6.45" fill="#add8e6" stroke="#000" stroke-width="1.5"/><circle cx="511.8" cy="166.2" r="6.45" fill="#add8e6" stroke="#000" stroke-width="1.5"/><circle cx="499.1" cy="173.8" r="6.45" fill="#add8e6" stroke="#000" stroke-width="1.5"/><circle cx="448.0" cy="157.4" r="6.45" fill="#add8e6" stroke="#000" stroke-width="1.5"/><circle cx="498.4" cy="141.4" r="6.45" fill="#1094ff" stroke="#000" stroke-width="1.5"/><circle cx="506.4" cy="136.0" r="6.45" fill="#1094ff" stroke="#000" stroke-width="1.5"/><circle cx="462.1" cy="143.4" r="6.45" fill="#add8e6" stroke="#000" stroke-width="1.5"/><circle cx="426.40625518800465" cy="129.2080114998954" r="6.45" fill="#fff" stroke="#000" stroke-width="1.5"/><circle cx="498.9" cy="157.2" r="6.45" fill="#1094ff" stroke="#000" stroke-width="1.5"/><circle cx="457.5" cy="150.9" r="6.45" fill="#add8e6" stroke="#000" stroke-width="1.5"/><circle cx="420.67072499436426" cy="162.27705905273325" r="6.45" fill="#fff" stroke="#000" stroke-width="1.5"/><circle cx="435.1" cy="125.4" r="6.45" fill="#add8e6" stroke="#000" stroke-width="1.5"/><circle cx="437.1" cy="142.1" r="6.45" fill="#add8e6" stroke="#000" stroke-width="1.5"/><circle cx="436.4" cy="158.3" r="6.45" fill="#add8e6" stroke="#000" stroke-width="1.5"/><circle cx="485.5" cy="151.8" r="6.45" fill="#1094ff" stroke="#000" stroke-width="1.5"/><circle cx="514.5" cy="184.0" r="6.45" fill="#1094ff" stroke="#000" stroke-width="1.5"/><circle cx="477.6" cy="200.6" r="6.45" fill="#add8e6" stroke="#000" stroke-width="1.5"/><circle cx="419.5063612612206" cy="156.48418676652844" r="6.45" fill="#fff" stroke="#000" stroke-width="1.5"/><circle cx="464.4" cy="174.1" r="6.45" fill="#add8e6" stroke="#000" stroke-width="1.5"/><circle cx="535.6" cy="129.0" r="6.45" fill="#1094ff" stroke="#000" stroke-width="1.5"/><circle cx="436.3" cy="174.0" r="6.45" fill="#add8e6" stroke="#000" stroke-width="1.5"/><circle cx="502.5" cy="198.4" r="6.45" fill="#1094ff" stroke="#000" stroke-width="1.5"/><circle cx="507.4" cy="125.3" r="6.45" fill="#add8e6" stroke="#000" stroke-width="1.5"/><circle cx="527.7" cy="128.6" r="6.45" fill="#add8e6" stroke="#000" stroke-width="1.5"/><circle cx="427.1540361700655" cy="190.80431769315098" r="6.45" fill="#fff" stroke="#000" stroke-width="1.5"/><circle cx="452.0" cy="133.6" r="6.45" fill="#add8e6" stroke="#000" stroke-width="1.5"/><circle cx="471.9" cy="127.4" r="6.45" fill="#add8e6" stroke="#000" stroke-width="1.5"/><circle cx="480.1" cy="159.6" r="6.45" fill="#add8e6" stroke="#000" stroke-width="1.5"/><circle cx="471.5" cy="205.1" r="6.45" fill="#add8e6" stroke="#000" stroke-width="1.5"/><circle cx="482.2" cy="127.5" r="6.45" fill="#1094ff" stroke="#000" stroke-width="1.5"/><circle cx="419.80962611348957" cy="221.27003777290773" r="6.45" fill="#fff" stroke="#000" stroke-width="1.5"/><circle cx="460.2" cy="197.9" r="6.45" fill="#add8e6" stroke="#000" stroke-width="1.5"/><circle cx="421.2500790418203" cy="192.46356035595656" r="6.45" fill="#fff" stroke="#000" stroke-width="1.5"/><circle cx="519.1" cy="126.5" r="6.45" fill="#1094ff" stroke="#000" stroke-width="1.5"/><circle cx="506.1" cy="150.2" r="6.45" fill="#1094ff" stroke="#000" stroke-width="1.5"/><circle cx="421.4951224177386" cy="185.95475100787584" r="6.45" fill="#fff" stroke="#000" stroke-width="1.5"/><circle cx="420.4951046361613" cy="204.4632392421012" r="6.45" fill="#fff" stroke="#000" stroke-width="1.5"/><circle cx="462.8" cy="190.1" r="6.45" fill="#add8e6" stroke="#000" stroke-width="1.5"/><circle cx="476.2" cy="151.8" r="6.45" fill="#add8e6" stroke="#000" stroke-width="1.5"/><circle cx="421.11570860390685" cy="143.04982495855037" r="6.45" fill="#fff" stroke="#000" stroke-width="1.5"/><circle cx="421.40392823424804" cy="212.47378656337332" r="6.45" fill="#fff" stroke="#000" stroke-width="1.5"/><circle cx="507.1" cy="176.2" r="6.45" fill="#add8e6" stroke="#000" stroke-width="1.5"/><circle cx="535.0" cy="173.0" r="6.45" fill="#1094ff" stroke="#000" stroke-width="1.5"/><circle cx="481.9" cy="174.7" r="6.45" fill="#add8e6" stroke="#000" stroke-width="1.5"/><circle cx="427.0605186998453" cy="155.83424886088952" r="6.45" fill="#fff" stroke="#000" stroke-width="1.5"/><circle cx="466.7" cy="181.8" r="6.45" fill="#add8e6" stroke="#000" stroke-width="1.5"/><circle cx="487.8" cy="168.9" r="6.45" fill="#add8e6" stroke="#000" stroke-width="1.5"/><circle cx="419.8298989596664" cy="122.75906769687028" r="6.45" fill="#fff" stroke="#000" stroke-width="1.5"/><circle cx="427.43753799502423" cy="165.57586332136378" r="6.45" fill="#fff" stroke="#000" stroke-width="1.5"/><circle cx="440.1" cy="200.4" r="6.45" fill="#add8e6" stroke="#000" stroke-width="1.5"/><circle cx="518.9" cy="158.8" r="6.45" fill="#1094ff" stroke="#000" stroke-width="1.5"/><circle cx="437.5" cy="192.6" r="6.45" fill="#add8e6" stroke="#000" stroke-width="1.5"/><circle cx="419.56814011866993" cy="198.31571738541572" r="6.45" fill="#fff" stroke="#000" stroke-width="1.5"/><circle cx="493.7" cy="150.6" r="6.45" fill="#1094ff" stroke="#000" stroke-width="1.5"/><circle cx="513.7" cy="152.8" r="6.45" fill="#1094ff" stroke="#000" stroke-width="1.5"/><circle cx="504.8" cy="181.3" r="6.45" fill="#add8e6" stroke="#000" stroke-width="1.5"/><circle cx="443.1" cy="182.5" r="6.45" fill="#add8e6" stroke="#000" stroke-width="1.5"/><circle cx="441.2" cy="214.5" r="6.45" fill="#add8e6" stroke="#000" stroke-width="1.5"/><circle cx="426.40264325591085" cy="212.54311073773957" r="6.45" fill="#fff" stroke="#000" stroke-width="1.5"/><circle cx="460.9" cy="167.8" r="6.45" fill="#add8e6" stroke="#000" stroke-width="1.5"/><circle cx="473.6" cy="144.4" r="6.45" fill="#add8e6" stroke="#000" stroke-width="1.5"/><circle cx="523.5" cy="166.8" r="6.45" fill="#1094ff" stroke="#000" stroke-width="1.5"/><circle cx="523.4" cy="133.1" r="6.45" fill="#1094ff" stroke="#000" stroke-width="1.5"/><circle cx="457.8" cy="136.2" r="6.45" fill="#add8e6" stroke="#000" stroke-width="1.5"/><circle cx="447.4" cy="173.6" r="6.45" fill="#add8e6" stroke="#000" stroke-width="1.5"/><circle cx="478.8" cy="133.2" r="6.45" fill="#1094ff" stroke="#000" stroke-width="1.5"/><circle cx="451.5" cy="167.7" r="6.45" fill="#add8e6" stroke="#000" stroke-width="1.5"/><circle cx="453.3" cy="157.3" r="6.45" fill="#add8e6" stroke="#000" stroke-width="1.5"/><circle cx="447.1" cy="141.0" r="6.45" fill="#add8e6" stroke="#000" stroke-width="1.5"/><circle cx="472.5" cy="176.8" r="6.45" fill="#add8e6" stroke="#000" stroke-width="1.5"/><circle cx="466.8" cy="152.1" r="6.45" fill="#add8e6" stroke="#000" stroke-width="1.5"/><circle cx="451.6" cy="152.2" r="6.45" fill="#add8e6" stroke="#000" stroke-width="1.5"/><circle cx="488.4" cy="198.6" r="6.45" fill="#add8e6" stroke="#000" stroke-width="1.5"/><circle cx="508.8" cy="141.6" r="6.45" fill="#add8e6" stroke="#000" stroke-width="1.5"/><circle cx="455.7" cy="144.8" r="6.45" fill="#add8e6" stroke="#000" stroke-width="1.5"/><circle cx="522.9" cy="151.0" r="6.45" fill="#1094ff" stroke="#000" stroke-width="1.5"/><circle cx="427.4896854532428" cy="219.5463731070073" r="6.45" fill="#fff" stroke="#000" stroke-width="1.5"/><circle cx="442.6" cy="167.5" r="6.45" fill="#add8e6" stroke="#000" stroke-width="1.5"/><circle cx="419.9320286957878" cy="137.170533432801" r="6.45" fill="#fff" stroke="#000" stroke-width="1.5"/><circle cx="485.4" cy="184.2" r="6.45" fill="#add8e6" stroke="#000" stroke-width="1.5"/><circle cx="490.1" cy="173.7" r="6.45" fill="#1094ff" stroke="#000" stroke-width="1.5"/><circle cx="533.4" cy="150.2" r="6.45" fill="#1094ff" stroke="#000" stroke-width="1.5"/><circle cx="479.2" cy="166.5" r="6.45" fill="#add8e6" stroke="#000" stroke-width="1.5"/><circle cx="425.7497542024942" cy="123.71177545248119" r="6.45" fill="#fff" stroke="#000" stroke-width="1.5"/><circle cx="539.3" cy="166.3" r="6.45" fill="#1094ff" stroke="#000" stroke-width="1.5"/><circle cx="532.9" cy="136.2" r="6.45" fill="#1094ff" stroke="#000" stroke-width="1.5"/><circle cx="526.5" cy="158.9" r="6.45" fill="#1094ff" stroke="#000" stroke-width="1.5"/><circle cx="482.0" cy="191.7" r="6.45" fill="#add8e6" stroke="#000" stroke-width="1.5"/><circle cx="421.0875020437139" cy="169.9290108657329" r="6.45" fill="#fff" stroke="#000" stroke-width="1.5"/><circle cx="489.7" cy="126.4" r="6.45" fill="#add8e6" stroke="#000" stroke-width="1.5"/><circle cx="453.7" cy="207.2" r="6.45" fill="#add8e6" stroke="#000" stroke-width="1.5"/><circle cx="425.74495574176495" cy="184.9053015577478" r="6.45" fill="#fff" stroke="#000" stroke-width="1.5"/><circle cx="420.76999988080945" cy="128.9164018882298" r="6.45" fill="#fff" stroke="#000" stroke-width="1.5"/><circle cx="485.7" cy="134.7" r="6.45" fill="#1094ff" stroke="#000" stroke-width="1.5"/><circle cx="544.5" cy="143.8" r="6.45" fill="#1094ff" stroke="#000" stroke-width="1.5"/><circle cx="472.8" cy="159.5" r="6.45" fill="#add8e6" stroke="#000" stroke-width="1.5"/><circle cx="441.0" cy="134.0" r="6.45" fill="#add8e6" stroke="#000" stroke-width="1.5"/><circle cx="444.3" cy="189.3" r="6.45" fill="#add8e6" stroke="#000" stroke-width="1.5"/><circle cx="420.51016830694005" cy="148.94422545398484" r="6.45" fill="#fff" stroke="#000" stroke-width="1.5"/><circle cx="497.2" cy="184.5" r="6.45" fill="#1094ff" stroke="#000" stroke-width="1.5"/><circle cx="450.5" cy="214.1" r="6.45" fill="#add8e6" stroke="#000" stroke-width="1.5"/><circle cx="544.9" cy="159.0" r="6.45" fill="#1094ff" stroke="#000" stroke-width="1.5"/><circle cx="493.5" cy="166.3" r="6.45" fill="#1094ff" stroke="#000" stroke-width="1.5"/><circle cx="489.6" cy="189.4" r="6.45" fill="#add8e6" stroke="#000" stroke-width="1.5"/><circle cx="426.1858428478441" cy="135.93881455514125" r="6.45" fill="#fff" stroke="#000" stroke-width="1.5"/><circle cx="466.6" cy="216.3" r="6.45" fill="#add8e6" stroke="#000" stroke-width="1.5"/><circle cx="444.3" cy="206.6" r="6.45" fill="#add8e6" stroke="#000" stroke-width="1.5"/><circle cx="426.319203381121" cy="205.4608821855339" r="6.45" fill="#fff" stroke="#000" stroke-width="1.5"/><circle cx="465.3" cy="160.0" r="6.45" fill="#add8e6" stroke="#000" stroke-width="1.5"/><circle cx="471.2" cy="189.1" r="6.45" fill="#add8e6" stroke="#000" stroke-width="1.5"/><circle cx="500.2" cy="190.6" r="6.45" fill="#1094ff" stroke="#000" stroke-width="1.5"/><circle cx="508.0" cy="159.8" r="6.45" fill="#add8e6" stroke="#000" stroke-width="1.5"/><circle cx="438.5" cy="206.4" r="6.45" fill="#add8e6" stroke="#000" stroke-width="1.5"/><circle cx="442.3" cy="152.5" r="6.45" fill="#add8e6" stroke="#000" stroke-width="1.5"/><circle cx="499.4" cy="127.4" r="6.45" fill="#1094ff" stroke="#000" stroke-width="1.5"/><circle cx="464.2" cy="128.0" r="6.45" fill="#add8e6" stroke="#000" stroke-width="1.5"/><circle cx="518.6" cy="141.5" r="6.45" fill="#1094ff" stroke="#000" stroke-width="1.5"/><circle cx="541.3" cy="151.1" r="6.45" fill="#1094ff" stroke="#000" stroke-width="1.5"/><circle cx="427.23177116841293" cy="148.93946448190877" r="6.45" fill="#fff" stroke="#000" stroke-width="1.5"/><circle cx="459.7" cy="214.8" r="6.45" fill="#add8e6" stroke="#000" stroke-width="1.5"/><circle cx="512.5" cy="136.8" r="6.45" fill="#1094ff" stroke="#000" stroke-width="1.5"/><circle cx="446.9" cy="129.0" r="6.45" fill="#add8e6" stroke="#000" stroke-width="1.5"/><circle cx="449.0" cy="184.2" r="6.45" fill="#add8e6" stroke="#000" stroke-width="1.5"/><circle cx="526.3" cy="143.0" r="6.45" fill="#1094ff" stroke="#000" stroke-width="1.5"/><circle cx="469.2" cy="166.0" r="6.45" fill="#add8e6" stroke="#000" stroke-width="1.5"/><circle cx="427.346334891709" cy="200.5502388637013" r="6.45" fill="#fff" stroke="#000" stroke-width="1.5"/><circle cx="534.7" cy="141.7" r="6.45" fill="#1094ff" stroke="#000" stroke-width="1.5"/><circle cx="425.87381752826434" cy="141.14855821341104" r="6.45" fill="#fff" stroke="#000" stroke-width="1.5"/><circle cx="525.2" cy="175.4" r="6.45" fill="#1094ff" stroke="#000" stroke-width="1.5"/><circle cx="504.1" cy="165.6" r="6.45" fill="#1094ff" stroke="#000" stroke-width="1.5"/><circle cx="537.9" cy="157.3" r="6.45" fill="#1094ff" stroke="#000" stroke-width="1.5"/><circle cx="460.8" cy="183.1" r="6.45" fill="#add8e6" stroke="#000" stroke-width="1.5"/><circle cx="491.1" cy="158.6" r="6.45" fill="#1094ff" stroke="#000" stroke-width="1.5"/><circle cx="455.0" cy="191.7" r="6.45" fill="#add8e6" stroke="#000" stroke-width="1.5"/><circle cx="428.3" cy="144.8" r="6.45" fill="#fff" stroke="#000" stroke-width="1.5"/><circle cx="419.9" cy="150.9" r="6.45" fill="#fff" stroke="#000" stroke-width="1.5"/><circle cx="419.9" cy="162.3" r="6.45" fill="#fff" stroke="#000" stroke-width="1.5"/><circle cx="432.8" cy="169.2" r="6.45" fill="#fff" stroke="#000" stroke-width="1.5"/><circle cx="420.7" cy="190.1" r="6.45" fill="#fff" stroke="#000" stroke-width="1.5"/><circle cx="427.8" cy="207" r="6.45" fill="#fff" stroke="#000" stroke-width="1.5"/><circle cx="420.3" cy="90.5" r="6.45" fill="#fff" stroke="#000" stroke-width="1.5"/><circle cx="420.4" cy="107.4" r="6.45" fill="#add8e6" stroke="#000" stroke-width="1.5"/><circle cx="417.1" cy="207.8" r="6.45" fill="#add8e6" stroke="#000" stroke-width="1.5"/><circle cx="420.7" cy="224.7" r="6.45" fill="#fff" stroke="#000" stroke-width="1.5"/><circle cx="420.7" cy="220.5" r="6.45" fill="#fff" stroke="#000" stroke-width="1.5"/><circle cx="420.7" cy="215.8" r="6.45" fill="#fff" stroke="#000" stroke-width="1.5"/><circle cx="420.7" cy="46.1" r="6.45" fill="#fff" stroke="#000" stroke-width="1.5"/><circle cx="427.1" cy="81.5" r="6.45" fill="#fff" stroke="#000" stroke-width="1.5"/><circle cx="420.4" cy="97.5" r="6.45" fill="#fff" stroke="#000" stroke-width="1.5"/><circle cx="420.4" cy="117.3" r="6.45" fill="#fff" stroke="#000" stroke-width="1.5"/><circle cx="419.9" cy="138.6" r="6.45" fill="#fff" stroke="#000" stroke-width="1.5"/><circle cx="420.7" cy="141" r="6.45" fill="#fff" stroke="#000" stroke-width="1.5"/><circle cx="426.8" cy="160" r="6.45" fill="#fff" stroke="#000" stroke-width="1.5"/><circle cx="419.9" cy="178.3" r="6.45" fill="#fff" stroke="#000" stroke-width="1.5"/><circle cx="420.7" cy="180.3" r="6.45" fill="#fff" stroke="#000" stroke-width="1.5"/><circle cx="426.9" cy="175.9" r="6.45" fill="#fff" stroke="#000" stroke-width="1.5"/><circle cx="426.8" cy="173" r="6.45" fill="#fff" stroke="#000" stroke-width="1.5"/><circle cx="420.7" cy="199" r="6.45" fill="#fff" stroke="#000" stroke-width="1.5"/><circle cx="427.8" cy="198.1" r="6.45" fill="#fff" stroke="#000" stroke-width="1.5"/><circle cx="434" cy="194.5" r="6.45" fill="#fff" stroke="#000" stroke-width="1.5"/><circle cx="427.0" cy="130.6" r="6.45" fill="#fff" stroke="#000" stroke-width="1.5"/><circle cx="522.3" cy="102" r="6.45" fill="#1094ff" stroke="#000" stroke-width="1.5"/><circle cx="492.8" cy="151.2" r="6.45" fill="#1094ff" stroke="#000" stroke-width="1.5"/><circle cx="535.2" cy="144.4" r="6.45" fill="#1094ff" stroke="#000" stroke-width="1.5"/><circle cx="547.4" cy="152.7" r="6.45" fill="#1094ff" stroke="#000" stroke-width="1.5"/><circle cx="508" cy="189.5" r="6.45" fill="#1094ff" stroke="#000" stroke-width="1.5"/><circle cx="484" cy="202" r="6.45" fill="#1094ff" stroke="#000" stroke-width="1.5"/><circle cx="535" cy="152.5" r="6.45" fill="#1094ff" stroke="#000" stroke-width="1.5"/><circle cx="451.1" cy="130.3" r="6.45" fill="#add8e6" stroke="#000" stroke-width="1.5"/><circle cx="476.1" cy="135.2" r="6.45" fill="#add8e6" stroke="#000" stroke-width="1.5"/><circle cx="515.7" cy="133.7" r="6.45" fill="#add8e6" stroke="#000" stroke-width="1.5"/><circle cx="520.8" cy="126.9" r="6.45" fill="#add8e6" stroke="#000" stroke-width="1.5"/><circle cx="439.7" cy="144.8" r="6.45" fill="#add8e6" stroke="#000" stroke-width="1.5"/><circle cx="439.7" cy="166.1" r="6.45" fill="#add8e6" stroke="#000" stroke-width="1.5"/><circle cx="458.7" cy="158.5" r="6.45" fill="#add8e6" stroke="#000" stroke-width="1.5"/><circle cx="483" cy="168.7" r="6.45" fill="#add8e6" stroke="#000" stroke-width="1.5"/><circle cx="474.6" cy="177.9" r="6.45" fill="#add8e6" stroke="#000" stroke-width="1.5"/><circle cx="472.4" cy="199.3" r="6.45" fill="#add8e6" stroke="#000" stroke-width="1.5"/><circle cx="469.5" cy="189.2" r="6.45" fill="#add8e6" stroke="#000" stroke-width="1.5"/><circle cx="440.2" cy="178.6" r="6.45" fill="#add8e6" stroke="#000" stroke-width="1.5"/><circle cx="432" cy="119.4" r="6.45" fill="#add8e6" stroke="#000" stroke-width="1.5"/><circle cx="439.6" cy="113.4" r="6.45" fill="#add8e6" stroke="#000" stroke-width="1.5"/><circle cx="452.3" cy="103.8" r="6.45" fill="#add8e6" stroke="#000" stroke-width="1.5"/><circle cx="452.3" cy="110.9" r="6.45" fill="#add8e6" stroke="#000" stroke-width="1.5"/><circle cx="465" cy="110.9" r="6.45" fill="#add8e6" stroke="#000" stroke-width="1.5"/><circle cx="458.4" cy="121" r="6.45" fill="#add8e6" stroke="#000" stroke-width="1.5"/><circle cx="471.1" cy="124.1" r="6.45" fill="#add8e6" stroke="#000" stroke-width="1.5"/><circle cx="483.8" cy="122.6" r="6.45" fill="#add8e6" stroke="#000" stroke-width="1.5"/><circle cx="483.8" cy="101.2" r="6.45" fill="#add8e6" stroke="#000" stroke-width="1.5"/><circle cx="515.4" cy="99.2" r="6.45" fill="#add8e6" stroke="#000" stroke-width="1.5"/><circle cx="439.7" cy="132.5" r="6.45" fill="#add8e6" stroke="#000" stroke-width="1.5"/><circle cx="452.6" cy="138.6" r="6.45" fill="#add8e6" stroke="#000" stroke-width="1.5"/><circle cx="489.6" cy="140" r="6.45" fill="#add8e6" stroke="#000" stroke-width="1.5"/><circle cx="515.3" cy="126.4" r="6.45" fill="#add8e6" stroke="#000" stroke-width="1.5"/><circle cx="515.3" cy="135.6" r="6.45" fill="#add8e6" stroke="#000" stroke-width="1.5"/><circle cx="534.3" cy="135.4" r="6.45" fill="#add8e6" stroke="#000" stroke-width="1.5"/><circle cx="559.6" cy="141.1" r="6.45" fill="#add8e6" stroke="#000" stroke-width="1.5"/><circle cx="439.7" cy="155.5" r="6.45" fill="#add8e6" stroke="#000" stroke-width="1.5"/><circle cx="439.7" cy="181.3" r="6.45" fill="#add8e6" stroke="#000" stroke-width="1.5"/><circle cx="451.9" cy="140.2" r="6.45" fill="#add8e6" stroke="#000" stroke-width="1.5"/><circle cx="451.9" cy="149.4" r="6.45" fill="#add8e6" stroke="#000" stroke-width="1.5"/><circle cx="451.9" cy="166.1" r="6.45" fill="#add8e6" stroke="#000" stroke-width="1.5"/><circle cx="458" cy="175.3" r="6.45" fill="#add8e6" stroke="#000" stroke-width="1.5"/><circle cx="458.7" cy="128" r="6.45" fill="#add8e6" stroke="#000" stroke-width="1.5"/><circle cx="467.9" cy="143.3" r="6.45" fill="#add8e6" stroke="#000" stroke-width="1.5"/><circle cx="467.9" cy="155.5" r="6.45" fill="#add8e6" stroke="#000" stroke-width="1.5"/><circle cx="468.6" cy="169.2" r="6.45" fill="#add8e6" stroke="#000" stroke-width="1.5"/><circle cx="446.5" cy="178.3" r="6.45" fill="#add8e6" stroke="#000" stroke-width="1.5"/><circle cx="472.3" cy="144.4" r="6.45" fill="#add8e6" stroke="#000" stroke-width="1.5"/><circle cx="472.3" cy="154.3" r="6.45" fill="#add8e6" stroke="#000" stroke-width="1.5"/><circle cx="472.3" cy="165.7" r="6.45" fill="#add8e6" stroke="#000" stroke-width="1.5"/><circle cx="502.7" cy="155.8" r="6.45" fill="#add8e6" stroke="#000" stroke-width="1.5"/><circle cx="514.9" cy="155" r="6.45" fill="#add8e6" stroke="#000" stroke-width="1.5"/><circle cx="515.4" cy="152.5" r="6.45" fill="#add8e6" stroke="#000" stroke-width="1.5"/><circle cx="503" cy="153.4" r="6.45" fill="#add8e6" stroke="#000" stroke-width="1.5"/><circle cx="526.8" cy="164.9" r="6.45" fill="#add8e6" stroke="#000" stroke-width="1.5"/><circle cx="528" cy="172.7" r="6.45" fill="#add8e6" stroke="#000" stroke-width="1.5"/><circle cx="528.3" cy="166.8" r="6.45" fill="#add8e6" stroke="#000" stroke-width="1.5"/><circle cx="540.3" cy="179.4" r="6.45" fill="#add8e6" stroke="#000" stroke-width="1.5"/><circle cx="470.7" cy="170.9" r="6.45" fill="#add8e6" stroke="#000" stroke-width="1.5"/><circle cx="483.1" cy="171.8" r="6.45" fill="#add8e6" stroke="#000" stroke-width="1.5"/><circle cx="509.7" cy="182.4" r="6.45" fill="#add8e6" stroke="#000" stroke-width="1.5"/><circle cx="460.9" cy="177.1" r="6.45" fill="#add8e6" stroke="#000" stroke-width="1.5"/><circle cx="471.5" cy="187.8" r="6.45" fill="#add8e6" stroke="#000" stroke-width="1.5"/><circle cx="483.1" cy="184.2" r="6.45" fill="#add8e6" stroke="#000" stroke-width="1.5"/><circle cx="462.7" cy="194" r="6.45" fill="#add8e6" stroke="#000" stroke-width="1.5"/><circle cx="484" cy="196.6" r="6.45" fill="#add8e6" stroke="#000" stroke-width="1.5"/><circle cx="463.6" cy="207.3" r="6.45" fill="#add8e6" stroke="#000" stroke-width="1.5"/><circle cx="502.6" cy="210" r="6.45" fill="#add8e6" stroke="#000" stroke-width="1.5"/><circle cx="472.4" cy="214.4" r="6.45" fill="#add8e6" stroke="#000" stroke-width="1.5"/><circle cx="464.2" cy="220.4" r="6.45" fill="#add8e6" stroke="#000" stroke-width="1.5"/><circle cx="484" cy="221.5" r="6.45" fill="#add8e6" stroke="#000" stroke-width="1.5"/><circle cx="439.3" cy="186.5" r="6.45" fill="#add8e6" stroke="#000" stroke-width="1.5"/><circle cx="439.3" cy="211.4" r="6.45" fill="#add8e6" stroke="#000" stroke-width="1.5"/><circle cx="439.3" cy="236.2" r="6.45" fill="#add8e6" stroke="#000" stroke-width="1.5"/><circle cx="448.2" cy="191.9" r="6.45" fill="#add8e6" stroke="#000" stroke-width="1.5"/><circle cx="450.8" cy="202.5" r="6.45" fill="#add8e6" stroke="#000" stroke-width="1.5"/><circle cx="452.6" cy="212.3" r="6.45" fill="#add8e6" stroke="#000" stroke-width="1.5"/><circle cx="452.6" cy="221.2" r="6.45" fill="#add8e6" stroke="#000" stroke-width="1.5"/><circle cx="458.8" cy="176.8" r="6.45" fill="#add8e6" stroke="#000" stroke-width="1.5"/><circle cx="457.9" cy="189.2" r="6.45" fill="#add8e6" stroke="#000" stroke-width="1.5"/><circle cx="463.3" cy="207" r="6.45" fill="#add8e6" stroke="#000" stroke-width="1.5"/><circle cx="465" cy="192.8" r="6.45" fill="#add8e6" stroke="#000" stroke-width="1.5"/><circle cx="566.2" cy="212.1" r="6.45" fill="#add8e6" stroke="#000" stroke-width="1.5"/><circle cx="635.9" cy="186.5" r="6.45" fill="#add8e6" stroke="#000" stroke-width="1.5"/><circle cx="546.9" cy="87.4" r="6.45" fill="#1094ff" stroke="#000" stroke-width="1.5"/><circle cx="497.3" cy="110.6" r="6.45" fill="#1094ff" stroke="#000" stroke-width="1.5"/><circle cx="509.2" cy="115.9" r="6.45" fill="#1094ff" stroke="#000" stroke-width="1.5"/><circle cx="534.2" cy="117" r="6.45" fill="#1094ff" stroke="#000" stroke-width="1.5"/><circle cx="547.4" cy="117" r="6.45" fill="#1094ff" stroke="#000" stroke-width="1.5"/><circle cx="540.9" cy="122.9" r="6.45" fill="#1094ff" stroke="#000" stroke-width="1.5"/><circle cx="523" cy="127.5" r="6.45" fill="#1094ff" stroke="#000" stroke-width="1.5"/><circle cx="547.4" cy="133.2" r="6.45" fill="#1094ff" stroke="#000" stroke-width="1.5"/><circle cx="559.4" cy="130.5" r="6.45" fill="#1094ff" stroke="#000" stroke-width="1.5"/><circle cx="579" cy="139" r="6.45" fill="#1094ff" stroke="#000" stroke-width="1.5"/><circle cx="490.9" cy="131.2" r="6.45" fill="#1094ff" stroke="#000" stroke-width="1.5"/><circle cx="502.5" cy="137.4" r="6.45" fill="#1094ff" stroke="#000" stroke-width="1.5"/><circle cx="502.9" cy="144" r="6.45" fill="#1094ff" stroke="#000" stroke-width="1.5"/><circle cx="521.8" cy="145.4" r="6.45" fill="#1094ff" stroke="#000" stroke-width="1.5"/><circle cx="483.7" cy="152.7" r="6.45" fill="#1094ff" stroke="#000" stroke-width="1.5"/><circle cx="496.6" cy="163.4" r="6.45" fill="#1094ff" stroke="#000" stroke-width="1.5"/><circle cx="514.2" cy="170.3" r="6.45" fill="#1094ff" stroke="#000" stroke-width="1.5"/><circle cx="488.3" cy="172.5" r="6.45" fill="#1094ff" stroke="#000" stroke-width="1.5"/><circle cx="502.3" cy="175.9" r="6.45" fill="#1094ff" stroke="#000" stroke-width="1.5"/><circle cx="547" cy="149.3" r="6.45" fill="#1094ff" stroke="#000" stroke-width="1.5"/><circle cx="565.5" cy="152.3" r="6.45" fill="#1094ff" stroke="#000" stroke-width="1.5"/><circle cx="534.5" cy="155.8" r="6.45" fill="#1094ff" stroke="#000" stroke-width="1.5"/><circle cx="546.8" cy="165" r="6.45" fill="#1094ff" stroke="#000" stroke-width="1.5"/><circle cx="540.3" cy="170.8" r="6.45" fill="#1094ff" stroke="#000" stroke-width="1.5"/><circle cx="572.6" cy="180.5" r="6.45" fill="#1094ff" stroke="#000" stroke-width="1.5"/><circle cx="591.7" cy="154.6" r="6.45" fill="#1094ff" stroke="#000" stroke-width="1.5"/><circle cx="617" cy="163" r="6.45" fill="#1094ff" stroke="#000" stroke-width="1.5"/><circle cx="661.1" cy="162" r="6.45" fill="#1094ff" stroke="#000" stroke-width="1.5"/><circle cx="597.8" cy="170.3" r="6.45" fill="#1094ff" stroke="#000" stroke-width="1.5"/><circle cx="591.6" cy="189" r="6.45" fill="#1094ff" stroke="#000" stroke-width="1.5"/><circle cx="604.1" cy="199.4" r="6.45" fill="#1094ff" stroke="#000" stroke-width="1.5"/><circle cx="623.3" cy="135.8" r="6.45" fill="#1094ff" stroke="#000" stroke-width="1.5"/><circle cx="661.2" cy="126.2" r="6.45" fill="#1094ff" stroke="#000" stroke-width="1.5"/><circle cx="491.1" cy="173.6" r="6.45" fill="#1094ff" stroke="#000" stroke-width="1.5"/><circle cx="516.4" cy="172.4" r="6.45" fill="#1094ff" stroke="#000" stroke-width="1.5"/><circle cx="525.7" cy="186.9" r="6.45" fill="#1094ff" stroke="#000" stroke-width="1.5"/><circle cx="516.4" cy="192.8" r="6.45" fill="#1094ff" stroke="#000" stroke-width="1.5"/><circle cx="491.1" cy="189.5" r="6.45" fill="#1094ff" stroke="#000" stroke-width="1.5"/><circle cx="496.4" cy="198.4" r="6.45" fill="#1094ff" stroke="#000" stroke-width="1.5"/><circle cx="484" cy="209.1" r="6.45" fill="#1094ff" stroke="#000" stroke-width="1.5"/><circle cx="516.2" cy="223.4" r="6.45" fill="#1094ff" stroke="#000" stroke-width="1.5"/><circle cx="522.1" cy="182.8" r="6.45" fill="#1094ff" stroke="#000" stroke-width="1.5"/><circle cx="528.3" cy="186.3" r="6.45" fill="#1094ff" stroke="#000" stroke-width="1.5"/><circle cx="547" cy="189" r="6.45" fill="#1094ff" stroke="#000" stroke-width="1.5"/><circle cx="547" cy="211.2" r="6.45" fill="#1094ff" stroke="#000" stroke-width="1.5"/><circle cx="515.4" cy="99.2" r="6.45" fill="#add8e6" stroke="#000" stroke-width="1.5"/><circle cx="515.3" cy="126.4" r="6.45" fill="#add8e6" stroke="#000" stroke-width="1.5"/><circle cx="534.3" cy="135.4" r="6.45" fill="#add8e6" stroke="#000" stroke-width="1.5"/><circle cx="559.6" cy="141.1" r="6.45" fill="#add8e6" stroke="#000" stroke-width="1.5"/><circle cx="502.7" cy="155.8" r="6.45" fill="#add8e6" stroke="#000" stroke-width="1.5"/><circle cx="515.4" cy="152.5" r="6.45" fill="#add8e6" stroke="#000" stroke-width="1.5"/><circle cx="526.8" cy="164.9" r="6.45" fill="#add8e6" stroke="#000" stroke-width="1.5"/><circle cx="528" cy="172.7" r="6.45" fill="#add8e6" stroke="#000" stroke-width="1.5"/><circle cx="540.3" cy="179.4" r="6.45" fill="#add8e6" stroke="#000" stroke-width="1.5"/><circle cx="509.7" cy="182.4" r="6.45" fill="#add8e6" stroke="#000" stroke-width="1.5"/><circle cx="502.6" cy="210" r="6.45" fill="#add8e6" stroke="#000" stroke-width="1.5"/><circle cx="484" cy="196.6" r="6.45" fill="#add8e6" stroke="#000" stroke-width="1.5"/><circle cx="484" cy="221.5" r="6.45" fill="#add8e6" stroke="#000" stroke-width="1.5"/><circle cx="489.6" cy="140" r="6.45" fill="#add8e6" stroke="#000" stroke-width="1.5"/><g font-family="Liberation Sans, sans-serif" fill="#262626" font-size="19"><text x="64.3" y="339.40" text-anchor="end">0</text><text x="410" y="339.40" text-anchor="end">0</text><text x="64.3" y="291.90" text-anchor="end">0.05</text><text x="410" y="291.90" text-anchor="end">0.05</text><text x="64.3" y="244.40" text-anchor="end">0.1</text><text x="410" y="244.40" text-anchor="end">0.1</text><text x="64.3" y="196.90" text-anchor="end">0.15</text><text x="410" y="196.90" text-anchor="end">0.15</text><text x="64.3" y="149.40" text-anchor="end">0.2</text><text x="410" y="149.40" text-anchor="end">0.2</text><text x="64.3" y="101.90" text-anchor="end">0.25</text><text x="410" y="101.90" text-anchor="end">0.25</text><text x="64.3" y="54.40" text-anchor="end">0.3</text><text x="410" y="54.40" text-anchor="end">0.3</text><text x="138.6" y="361.3" text-anchor="middle">NMus</text><text x="264" y="361.3" text-anchor="middle">Mus</text><text x="421.90" y="361.3" text-anchor="middle">0</text><text x="485.20" y="361.3" text-anchor="middle">10</text><text x="548.50" y="361.3" text-anchor="middle">20</text><text x="611.80" y="361.3" text-anchor="middle">30</text><text x="675.10" y="361.3" text-anchor="middle">40</text></g><g font-family="Liberation Sans, sans-serif" fill="#262626" font-size="20.5"><text x="199.5" y="389.6" text-anchor="middle">Group</text><text x="543.6" y="389.6" text-anchor="middle">Yrs. of Formal Musical Training</text><text transform="translate(16.2,177.2) rotate(-90)" text-anchor="middle">Stimulus-to-Response (<tspan font-style="italic">r</tspan>)</text><text transform="translate(362.2,177.2) rotate(-90)" text-anchor="middle">Stimulus-to-Response (<tspan font-style="italic">r</tspan>)</text></g><g font-family="Liberation Sans, sans-serif" fill="#000" font-size="20.5" font-weight="bold"><text x="68.5" y="15.5">a</text><text x="91.2" y="15.5">Strictly Defined Groups</text><text x="418.8" y="15.5">b</text><text x="547.2" y="15.5" text-anchor="middle">All Data</text></g><g font-family="Liberation Sans, sans-serif" fill="#000" font-size="16.2" font-weight="bold" stroke="#000" stroke-width="0.2"><text transform="translate(88.33,281.2) scale(0.969,1)">Mus:</text><text transform="translate(128.44,281.2) scale(0.962,1)">n</text><text transform="translate(141.91,281.2) scale(0.988,1)">=</text><text transform="translate(155.46,281.2) scale(0.941,1)">74</text><text transform="translate(88.34,300.2) scale(0.960,1)">NMus:</text><text transform="translate(139.74,300.2) scale(0.963,1)">n</text><text transform="translate(153.03,300.2) scale(0.975,1)">=</text><text transform="translate(166.13,300.2) scale(0.971,1)">88</text><text transform="translate(87.16,320.5) scale(1.140,1)" font-style="italic">t</text><text transform="translate(94.55,320.5) scale(0.953,1)">(160)</text><text transform="translate(134.07,320.5) scale(1.025,1)">=</text><text transform="translate(147.85,320.5) scale(0.953,1)">-0.716,</text><text transform="translate(207.90,320.5) scale(1.100,1)" font-style="italic">p</text><text transform="translate(223.17,320.5) scale(1.025,1)">=</text><text transform="translate(236.93,320.5) scale(0.967,1)">0.763</text><text transform="translate(440.90,293.4) scale(0.929,1)" font-style="italic">r</text><text transform="translate(450.91,293.4) scale(0.988,1)">=</text><text transform="translate(464.65,293.4) scale(0.947,1)">-0.005,</text><text transform="translate(521.60,293.4) scale(1.089,1)" font-style="italic">p</text><text transform="translate(537.11,293.4) scale(0.987,1)">=</text><text transform="translate(550.42,293.4) scale(0.977,1)">0.535</text><text transform="translate(440.97,310) scale(0.925,1)">n</text><text transform="translate(454.19,310) scale(1.013,1)">=</text><text transform="translate(467.35,310) scale(0.954,1)">296</text></g></svg></body></html>
